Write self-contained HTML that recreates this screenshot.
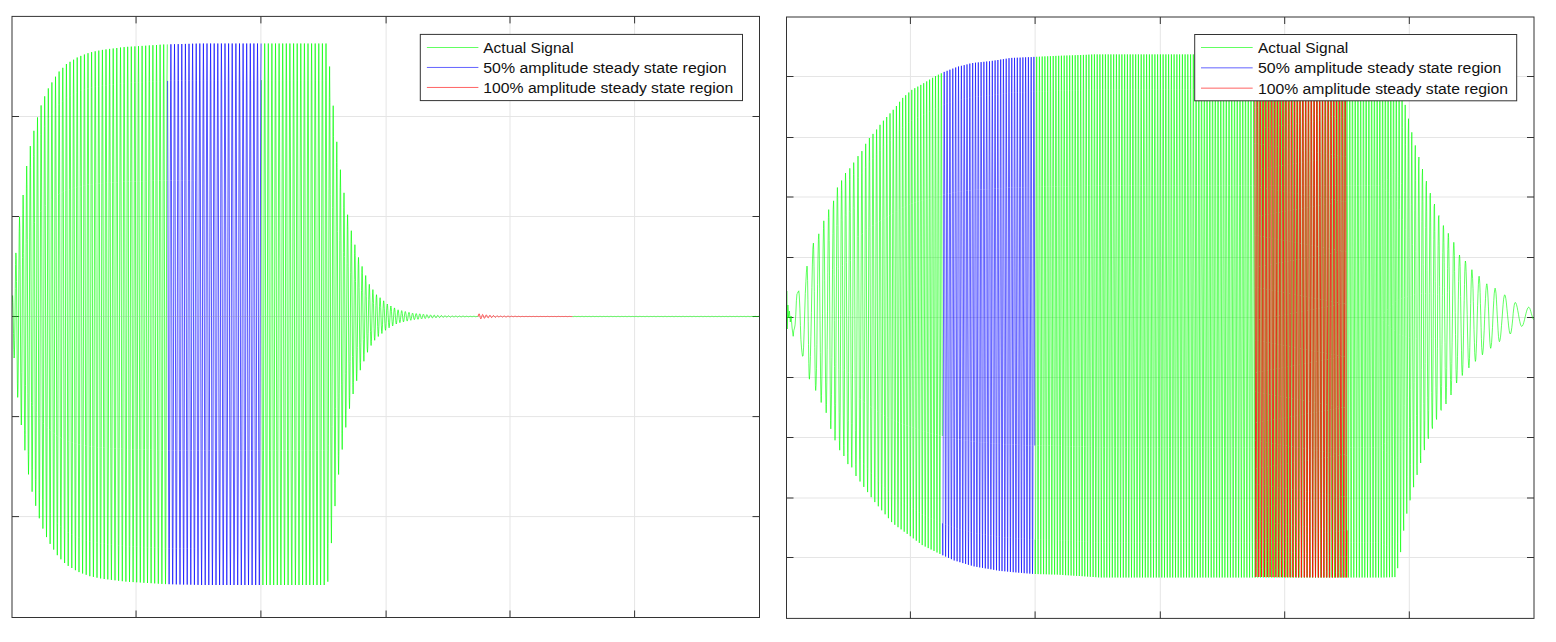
<!DOCTYPE html>
<html><head><meta charset="utf-8"><style>
html,body{margin:0;padding:0;background:#fff;width:1556px;height:642px;overflow:hidden}
svg{position:absolute;left:0;top:0}
.g line{stroke:#e5e5e5;stroke-width:1}
.t line,.t rect{stroke:#333;stroke-width:1}
.sig{fill:none;stroke-width:0.62;stroke-linejoin:round}
.lt{font-family:"Liberation Sans",sans-serif;font-size:15.3px;fill:#111}
</style></head><body>
<svg width="1556" height="642" viewBox="0 0 1556 642">
<defs>
<clipPath id="cl"><rect x="12" y="16.4" width="747.5" height="601.1"/></clipPath>
<clipPath id="cr"><rect x="786.5" y="17" width="747.5" height="601.4"/></clipPath>
</defs>
<g class="g"><line x1="136.06" y1="16.4" x2="136.06" y2="617.5"/><line x1="260.9" y1="16.4" x2="260.9" y2="617.5"/><line x1="386.1" y1="16.4" x2="386.1" y2="617.5"/><line x1="510.0" y1="16.4" x2="510.0" y2="617.5"/><line x1="634.6" y1="16.4" x2="634.6" y2="617.5"/><line x1="12.0" y1="116.5" x2="759.5" y2="116.5"/><line x1="12.0" y1="216.5" x2="759.5" y2="216.5"/><line x1="12.0" y1="316.5" x2="759.5" y2="316.5"/><line x1="12.0" y1="416.6" x2="759.5" y2="416.6"/><line x1="12.0" y1="516.6" x2="759.5" y2="516.6"/></g>
<g class="g"><line x1="910.4" y1="17.0" x2="910.4" y2="618.4"/><line x1="1035.1" y1="17.0" x2="1035.1" y2="618.4"/><line x1="1160.3" y1="17.0" x2="1160.3" y2="618.4"/><line x1="1284.7" y1="17.0" x2="1284.7" y2="618.4"/><line x1="1409.3" y1="17.0" x2="1409.3" y2="618.4"/><line x1="786.5" y1="76.5" x2="1534.0" y2="76.5"/><line x1="786.5" y1="137.5" x2="1534.0" y2="137.5"/><line x1="786.5" y1="197.0" x2="1534.0" y2="197.0"/><line x1="786.5" y1="257.5" x2="1534.0" y2="257.5"/><line x1="786.5" y1="317.5" x2="1534.0" y2="317.5"/><line x1="786.5" y1="377.5" x2="1534.0" y2="377.5"/><line x1="786.5" y1="437.5" x2="1534.0" y2="437.5"/><line x1="786.5" y1="498.0" x2="1534.0" y2="498.0"/><line x1="786.5" y1="557.5" x2="1534.0" y2="557.5"/></g>
<g class="t"><line x1="136.06" y1="617.5" x2="136.06" y2="610.50"/><line x1="136.06" y1="16.4" x2="136.06" y2="23.40"/><line x1="260.9" y1="617.5" x2="260.9" y2="610.50"/><line x1="260.9" y1="16.4" x2="260.9" y2="23.40"/><line x1="386.1" y1="617.5" x2="386.1" y2="610.50"/><line x1="386.1" y1="16.4" x2="386.1" y2="23.40"/><line x1="510.0" y1="617.5" x2="510.0" y2="610.50"/><line x1="510.0" y1="16.4" x2="510.0" y2="23.40"/><line x1="634.6" y1="617.5" x2="634.6" y2="610.50"/><line x1="634.6" y1="16.4" x2="634.6" y2="23.40"/><line x1="12.0" y1="116.5" x2="19.00" y2="116.5"/><line x1="759.5" y1="116.5" x2="752.50" y2="116.5"/><line x1="12.0" y1="216.5" x2="19.00" y2="216.5"/><line x1="759.5" y1="216.5" x2="752.50" y2="216.5"/><line x1="12.0" y1="316.5" x2="19.00" y2="316.5"/><line x1="759.5" y1="316.5" x2="752.50" y2="316.5"/><line x1="12.0" y1="416.6" x2="19.00" y2="416.6"/><line x1="759.5" y1="416.6" x2="752.50" y2="416.6"/><line x1="12.0" y1="516.6" x2="19.00" y2="516.6"/><line x1="759.5" y1="516.6" x2="752.50" y2="516.6"/></g>
<g class="t"><line x1="910.4" y1="618.4" x2="910.4" y2="611.40"/><line x1="910.4" y1="17.0" x2="910.4" y2="24.00"/><line x1="1035.1" y1="618.4" x2="1035.1" y2="611.40"/><line x1="1035.1" y1="17.0" x2="1035.1" y2="24.00"/><line x1="1160.3" y1="618.4" x2="1160.3" y2="611.40"/><line x1="1160.3" y1="17.0" x2="1160.3" y2="24.00"/><line x1="1284.7" y1="618.4" x2="1284.7" y2="611.40"/><line x1="1284.7" y1="17.0" x2="1284.7" y2="24.00"/><line x1="1409.3" y1="618.4" x2="1409.3" y2="611.40"/><line x1="1409.3" y1="17.0" x2="1409.3" y2="24.00"/><line x1="786.5" y1="76.5" x2="793.50" y2="76.5"/><line x1="1534.0" y1="76.5" x2="1527.00" y2="76.5"/><line x1="786.5" y1="137.5" x2="793.50" y2="137.5"/><line x1="1534.0" y1="137.5" x2="1527.00" y2="137.5"/><line x1="786.5" y1="197.0" x2="793.50" y2="197.0"/><line x1="1534.0" y1="197.0" x2="1527.00" y2="197.0"/><line x1="786.5" y1="257.5" x2="793.50" y2="257.5"/><line x1="1534.0" y1="257.5" x2="1527.00" y2="257.5"/><line x1="786.5" y1="317.5" x2="793.50" y2="317.5"/><line x1="1534.0" y1="317.5" x2="1527.00" y2="317.5"/><line x1="786.5" y1="377.5" x2="793.50" y2="377.5"/><line x1="1534.0" y1="377.5" x2="1527.00" y2="377.5"/><line x1="786.5" y1="437.5" x2="793.50" y2="437.5"/><line x1="1534.0" y1="437.5" x2="1527.00" y2="437.5"/><line x1="786.5" y1="498.0" x2="793.50" y2="498.0"/><line x1="1534.0" y1="498.0" x2="1527.00" y2="498.0"/><line x1="786.5" y1="557.5" x2="793.50" y2="557.5"/><line x1="1534.0" y1="557.5" x2="1527.00" y2="557.5"/></g>
<g clip-path="url(#cl)" style="--w:0.67">
<polyline class="sig" stroke="#00ff00" style="stroke-width:0.67" points="11.4,316.5 11.7,310.6 12,302.7 12.3,296.5 12.6,295.6 12.9,302.5 13.2,316.5 13.5,333.7 13.8,349.4 14.1,358 14.4,355.5 14.7,340.8 15,316.5 15.3,288.3 15.6,264.5 15.9,252.9 16.2,258.7 16.5,281.6 16.8,316.5 17.1,353.9 17.4,383.9 17.7,397.4 18,389.2 18.3,360 18.6,316.5 18.9,269.2 19.2,231.9 19.5,216.9 19.8,228.7 20.1,264.9 20.4,316.5 20.7,369 21,409 21.3,425 21.6,412 21.9,372.5 22.2,316.5 22.5,257.7 22.8,213.2 23.1,195 23.4,209.2 23.7,253.3 24,316.5 24.3,381 24.6,430.3 24.9,450.3 25.2,434.5 25.5,385.8 25.8,316.5 26.1,243.6 26.4,188.1 26.7,166 27,184.7 27.3,239.6 27.6,316.5 27.9,393.8 28.2,451.8 28.5,474.4 28.8,454.6 29.1,397.1 29.4,316.5 29.7,232.9 30,170.3 30.3,146.1 30.6,167.8 30.9,230 31.2,316.5 31.5,402.8 31.8,467.1 32.1,491.7 32.4,469.3 32.7,405.4 33,316.5 33.3,224.9 33.6,156.7 33.9,130.8 34.2,154.7 34.5,222.5 34.8,316.5 35.1,410 35.4,479.5 35.7,505.8 36,481.4 36.3,412.2 36.6,316.5 36.9,218 37.2,145 37.5,117.4 37.8,143.2 38.1,215.9 38.4,316.5 38.7,416.4 39,490.4 39.3,518.3 39.6,492.2 39.9,418.4 40.2,316.5 40.5,211.8 40.8,134.4 41.1,105.4 41.4,133 41.7,210.2 42,316.5 42.3,421.8 42.6,499.6 42.9,528.6 43.2,500.9 43.5,423.3 43.8,316.5 44.1,207.1 44.4,126.4 44.7,96.3 45,125.2 45.3,205.7 45.6,316.5 45.9,426.1 46.2,507 46.5,537.1 46.8,508.1 47.1,427.5 47.4,316.5 47.7,203 48,119.4 48.3,88.4 48.6,118.5 48.9,201.9 49.2,316.5 49.5,429.7 49.8,513 50.1,543.9 50.4,513.8 50.7,430.7 51,316.5 51.3,199.9 51.6,114.1 51.9,82.4 52.2,113.3 52.5,199 52.8,316.5 53.1,432.6 53.4,517.9 53.7,549.6 54,518.8 54.3,433.5 54.6,316.5 54.9,197.1 55.2,109.2 55.5,76.7 55.8,108.4 56.1,196.1 56.4,316.5 56.7,435.4 57,522.8 57.3,555.2 57.6,523.6 57.9,436.3 58.2,316.5 58.5,194.3 58.8,104.6 59.1,71.5 59.4,104.1 59.7,193.7 60,316.5 60.3,437.6 60.6,526.5 60.9,559.3 61.2,527 61.5,438.2 61.8,316.5 62.1,192.5 62.4,101.4 62.8,67.8 63.1,100.8 63.4,191.8 63.7,316.5 64,439.4 64.3,529.7 64.6,563 64.9,530.2 65.2,440 65.5,316.5 65.8,190.6 66.1,98.1 66.4,64 66.7,97.7 67,190.1 67.3,316.5 67.6,441 67.9,532.3 68.2,565.9 68.5,532.6 68.8,441.4 69.1,316.5 69.4,189.4 69.7,96.1 70,61.8 70.3,95.8 70.6,189 70.9,316.5 71.2,442.1 71.5,534.2 71.8,568 72.1,534.5 72.4,442.4 72.7,316.5 73,188.3 73.3,94.2 73.6,59.7 73.9,93.9 74.2,187.9 74.5,316.5 74.8,443.2 75.1,536 75.4,570.2 75.7,536.3 76,443.5 76.3,316.5 76.6,187.2 76.9,92.4 77.2,57.5 77.5,92 77.8,186.8 78.1,316.5 78.4,444.2 78.7,537.8 79,572.1 79.3,537.9 79.6,444.4 79.9,316.5 80.2,186.3 80.5,90.9 80.8,55.9 81.1,90.7 81.4,186.1 81.7,316.5 82,444.9 82.3,538.9 82.6,573.5 82.9,539.1 83.2,445.1 83.5,316.5 83.8,185.6 84.1,89.7 84.4,54.5 84.7,89.5 85,185.4 85.3,316.5 85.6,445.5 85.9,540.1 86.2,574.8 86.5,540.3 86.8,445.8 87.1,316.5 87.4,184.9 87.7,88.5 88,53.2 88.3,88.3 88.6,184.7 88.9,316.5 89.2,446.2 89.5,541.3 89.8,576.2 90.1,541.4 90.4,446.4 90.7,316.5 91,184.4 91.3,87.6 91.6,52.1 91.9,87.5 92.2,184.2 92.5,316.5 92.8,446.7 93.1,542 93.4,576.9 93.7,542.1 94,446.8 94.3,316.5 94.6,184 94.9,86.9 95.2,51.3 95.5,86.8 95.8,183.8 96.1,316.5 96.4,447 96.7,542.6 97,577.7 97.3,542.7 97.6,447.2 97.9,316.5 98.2,183.6 98.5,86.2 98.8,50.6 99.1,86.1 99.4,183.5 99.7,316.5 100,447.4 100.3,543.3 100.6,578.4 100.9,543.4 101.2,447.5 101.5,316.5 101.8,183.2 102.1,85.6 102.4,49.9 102.7,85.6 103,183.1 103.3,316.5 103.6,447.7 103.9,543.8 104.2,579 104.5,543.8 104.8,447.8 105.1,316.5 105.4,183 105.7,85.2 106,49.4 106.3,85.2 106.6,182.9 106.9,316.5 107.2,447.9 107.5,544.2 107.8,579.4 108.1,544.2 108.4,448 108.7,316.5 109,182.8 109.3,84.8 109.6,48.9 109.9,84.7 110.2,182.7 110.5,316.5 110.8,448.2 111.1,544.6 111.4,579.9 111.7,544.6 112,448.2 112.3,316.5 112.6,182.5 112.9,84.4 113.2,48.5 113.5,84.3 113.8,182.4 114.1,316.5 114.4,448.4 114.7,545 115,580.3 115.3,545 115.6,448.5 115.9,316.5 116.2,182.3 116.5,84 116.8,48 117.1,83.9 117.4,182.2 117.7,316.5 118,448.6 118.3,545.4 118.6,580.8 118.9,545.4 119.2,448.7 119.5,316.5 119.9,182.1 120.2,83.6 120.5,47.5 120.8,83.5 121.1,182 121.4,316.5 121.7,448.8 122,545.7 122.3,581.2 122.6,545.8 122.9,448.9 123.2,316.5 123.5,181.8 123.8,83.2 124.1,47.1 124.4,83.1 124.7,181.8 125,316.5 125.3,449 125.6,546.1 125.9,581.6 126.2,546.1 126.5,449.1 126.8,316.5 127.1,181.7 127.4,83 127.7,46.8 128,82.9 128.3,181.6 128.6,316.5 128.9,449.2 129.2,546.3 129.5,581.9 129.8,546.3 130.1,449.2 130.4,316.5 130.7,181.6 131,82.8 131.3,46.6 131.6,82.7 131.9,181.5 132.2,316.5 132.5,449.3 132.8,546.5 133.1,582.1 133.4,546.5 133.7,449.3 134,316.5 134.3,181.4 134.6,82.6 134.9,46.4 135.2,82.5 135.5,181.4 135.8,316.5 136.1,449.4 136.4,546.7 136.7,582.3 137,546.7 137.3,449.4 137.6,316.5 137.9,181.3 138.2,82.4 138.5,46.1 138.8,82.3 139.1,181.3 139.4,316.5 139.7,449.5 140,546.9 140.3,582.5 140.6,546.9 140.9,449.5 141.2,316.5 141.5,181.2 141.8,82.2 142.1,45.9 142.4,82.1 142.7,181.2 143,316.5 143.3,449.6 143.6,547.1 143.9,582.8 144.2,547.1 144.5,449.6 144.8,316.5 145.1,181.1 145.4,82 145.7,45.7 146,81.9 146.3,181.1 146.6,316.5 146.9,449.7 147.2,547.3 147.5,583 147.8,547.3 148.1,449.8 148.4,316.5 148.7,181 149,81.8 149.3,45.4 149.6,81.7 149.9,180.9 150.2,316.5 150.5,449.8 150.8,547.5 151.1,583.2 151.4,547.5 151.7,449.9 152,316.5 152.3,180.9 152.6,81.6 152.9,45.2 153.2,81.5 153.5,180.8 153.8,316.5 154.1,449.9 154.4,547.7 154.7,583.4 155,547.7 155.3,450 155.6,316.5 155.9,180.8 156.2,81.4 156.5,45 156.8,81.3 157.1,180.7 157.4,316.5 157.7,450.1 158,547.9 158.3,583.7 158.6,547.9 158.9,450.1 159.2,316.5 159.5,180.6 159.8,81.2 160.1,44.7 160.4,81.1 160.7,180.6 161,316.5 161.3,450.2 161.6,548 161.9,583.9 162.2,548.1 162.5,450.2 162.8,316.5 163.1,180.5 163.4,81 163.7,44.5 164,80.9 164.3,180.5 164.6,316.5 164.9,450.3 165.2,548.2 165.5,584.1 165.8,548.2 166.1,450.3 166.4,316.5 166.7,180.5 167,80.9 167.3,44.4"/>
<polyline class="sig" stroke="#00ff00" style="stroke-width:0.67" points="261.4,80.1 261.7,180 262,316.5 262.3,450.7 262.6,549 262.9,585 263.2,549 263.5,450.8 263.8,316.5 264.1,180 264.4,80.1 264.7,43.5 265,80.1 265.3,180 265.6,316.5 265.9,450.8 266.2,549 266.5,585 266.8,549 267.1,450.8 267.4,316.5 267.7,180 268,80.1 268.3,43.5 268.6,80.1 268.9,180 269.2,316.5 269.5,450.8 269.8,549 270.1,585 270.4,549 270.7,450.8 271,316.5 271.3,180 271.6,80.1 271.9,43.5 272.2,80.1 272.5,180 272.8,316.5 273.1,450.7 273.4,549 273.7,585 274,549 274.3,450.8 274.6,316.5 274.9,180 275.2,80.1 275.5,43.5 275.8,80.1 276.1,180 276.4,316.5 276.7,450.7 277,549 277.3,585 277.6,549 277.9,450.8 278.2,316.5 278.5,180 278.8,80.1 279.1,43.5 279.4,80.1 279.7,180 280,316.5 280.3,450.8 280.6,549 280.9,585 281.2,549 281.5,450.7 281.8,316.5 282.1,180 282.4,80.1 282.7,43.5 283,80.1 283.3,180 283.6,316.5 283.9,450.7 284.2,549 284.5,585 284.8,549 285.1,450.7 285.4,316.5 285.7,180 286,80.1 286.3,43.5 286.6,80.1 286.9,180 287.2,316.5 287.5,450.7 287.8,549 288.1,585 288.4,549 288.7,450.8 289,316.5 289.3,180 289.6,80.1 289.9,43.5 290.2,80.1 290.5,180 290.8,316.5 291.1,450.7 291.4,549 291.8,585 292.1,549 292.4,450.7 292.7,316.5 293,180 293.3,80.1 293.6,43.5 293.9,80.1 294.2,180 294.5,316.5 294.8,450.7 295.1,549 295.4,585 295.7,549 296,450.8 296.3,316.5 296.6,180 296.9,80.1 297.2,43.5 297.5,80.1 297.8,180 298.1,316.5 298.4,450.7 298.7,549 299,585 299.3,549 299.6,450.8 299.9,316.5 300.2,180 300.5,80.1 300.8,43.5 301.1,80.1 301.4,180 301.7,316.5 302,450.7 302.3,549 302.6,585 302.9,549 303.2,450.8 303.5,316.5 303.8,180 304.1,80.1 304.4,43.5 304.7,80.1 305,180 305.3,316.5 305.6,450.8 305.9,549 306.2,585 306.5,549 306.8,450.8 307.1,316.5 307.4,180 307.7,80.1 308,43.5 308.3,80.1 308.6,180 308.9,316.5 309.2,450.8 309.5,549 309.8,585 310.1,549 310.4,450.8 310.7,316.5 311,180 311.3,80.1 311.6,43.5 311.9,80.1 312.2,180 312.5,316.5 312.8,450.7 313.1,549 313.4,585 313.7,549 314,450.8 314.3,316.5 314.6,180 314.9,80.1 315.2,43.5 315.5,80.1 315.8,180 316.1,316.5 316.4,450.7 316.7,549 317,585 317.3,549 317.6,450.7 317.9,316.5 318.2,180 318.5,80.1 318.8,43.5 319.1,80.1 319.4,180 319.7,316.5 320,450.8 320.3,549 320.6,585 320.9,549 321.2,450.7 321.5,316.5 321.8,180 322.1,80.1 322.4,43.5 322.7,80.1 323,180 323.3,316.5 323.6,450.7 323.9,549 324.2,585 324.5,549 324.8,450.8 325.1,316.5 325.4,180 325.7,80.1 326,43.5 326.3,80.1 326.6,180 326.9,316.5 327.2,450.7 327.5,548.9 327.8,581.7 328.1,543.3 328.4,445.9 328.7,316.5 329,188.2 329.3,97.2 329.6,66.5 329.9,102.8 330.2,194.8 330.5,316.5 330.8,433 331.1,515.5 331.4,543.1 331.7,510 332,426.6 332.3,316.5 332.6,207.8 332.9,131.1 333.2,105.7 333.5,136.6 333.8,214.1 334.1,316.5 334.4,414.2 334.7,483.2 335,506.1 335.3,478.1 335.6,408.3 335.9,316.5 336.2,226.1 336.5,162.6 336.8,141.8 337.1,167.3 337.4,231.5 337.7,316.5 338,397.8 338.3,455.3 338.6,474.5 338.9,451.3 339.2,393.2 339.5,316.5 339.8,240.8 340.1,187.4 340.4,169.7 340.7,191.1 341,245 341.3,316.5 341.6,384.9 341.9,433.3 342.2,449.5 342.5,430.1 342.8,381.1 343.1,316.5 343.4,252.7 343.7,207.7 344,192.8 344.3,210.9 344.6,256.5 344.9,316.5 345.2,373.7 345.5,414.1 345.8,427.4 346.1,410.9 346.4,370.1 346.7,316.5 347,263.8 347.3,226.8 347.6,214.7 347.9,229.5 348.2,266.9 348.5,316.5 348.9,363.9 349.2,397.5 349.5,408.7 349.8,395.2 350.1,361.3 350.4,316.5 350.7,272.3 351,241.1 351.3,230.7 351.6,243.2 351.9,274.8 352.2,316.5 352.5,356.4 352.8,384.6 353.1,394 353.4,382.6 353.7,354.1 354,316.5 354.3,279.4 354.6,253.3 354.9,244.7 355.2,255.3 355.5,281.7 355.8,316.5 356.1,349.7 356.4,373.1 356.7,380.8 357,371.2 357.3,347.6 357.6,316.5 357.9,286 358.2,264.6 358.5,257.4 358.8,266 359.1,287.7 359.4,316.5 359.7,344.1 360,363.6 360.3,370.2 360.6,362.3 360.9,342.6 361.2,316.5 361.5,290.7 361.8,272.5 362.1,266.4 362.4,273.8 362.7,292.2 363,316.5 363.3,339.6 363.6,355.9 363.9,361.3 364.2,354.6 364.5,338.1 364.8,316.5 365.1,295.3 365.4,280.4 365.7,275.5 366,281.7 366.3,296.8 366.6,316.5 366.9,335.2 367.2,348.2 367.5,352.3 367.8,346.9 368.1,333.7 368.4,316.5 368.7,299.8 369,288.2 369.3,284.3 369.6,289 369.9,300.9 370.2,316.5 370.5,331.5 370.8,342 371.1,345.5 371.4,341.3 371.7,330.6 372,316.5 372.3,302.6 372.6,292.8 372.9,289.6 373.2,293.6 373.5,303.5 373.8,316.5 374.1,328.8 374.4,337.5 374.7,340.3 375,336.7 375.3,328 375.6,316.5 375.9,305.3 376.2,297.4 376.5,294.7 376.8,297.9 377.1,305.9 377.4,316.5 377.7,326.7 378,334 378.3,336.5 378.6,333.6 378.9,326.2 379.2,316.5 379.5,306.8 379.8,300 380.1,297.7 380.4,300.4 380.7,307.3 381,316.5 381.3,325.2 381.6,331.4 381.9,333.5 382.2,331 382.5,324.7 382.8,316.5 383.1,308.4 383.4,302.7 383.7,300.8 384,303.2 384.3,308.9 384.6,316.5 384.9,323.7 385.2,328.7 385.5,330.3 385.8,328.3 386.1,323.2 386.4,316.5 386.7,310 387,305.5 387.3,304 387.6,305.8 387.9,310.4 388.2,316.5 388.5,322.3 388.8,326.4 389.1,327.8 389.4,326.2 389.7,322 390,316.5 390.3,311.1 390.6,307.2 390.9,306 391.2,307.5 391.5,311.4 391.8,316.5 392.1,321.4 392.4,324.8 392.7,325.9 393,324.5 393.3,321 393.6,316.5 393.9,312 394.2,308.9 394.5,307.9 394.8,309.2 395.1,312.4 395.4,316.5 395.7,320.4 396,323.1 396.3,324 396.6,322.8 396.9,320.1 397.2,316.5 397.5,313 397.8,310.6 398.1,309.8 398.4,310.8 398.7,313.2 399,316.5 399.3,319.6 399.6,321.9 399.9,322.7 400.2,321.8 400.5,319.5 400.8,316.5 401.1,313.5 401.4,311.4 401.7,310.6 402,311.5 402.3,313.6 402.6,316.5 402.9,319.2 403.2,321.2 403.5,321.9 403.8,321.1 404.1,319.1 404.4,316.5 404.7,313.9 405,312.1 405.3,311.5 405.6,312.2 406,314 406.3,316.5 406.6,318.8 406.9,320.5 407.2,321.1 407.5,320.4 407.8,318.7 408.1,316.5 408.4,314.3 408.7,312.8 409,312.3 409.3,312.9 409.6,314.5 409.9,316.5 410.2,318.4 410.5,319.8 410.8,320.3 411.1,319.7 411.4,318.3 411.7,316.5 412,314.7 412.3,313.5 412.6,313.1 412.9,313.6 413.2,314.8 413.5,316.5 413.8,318.1 414.1,319.3 414.4,319.7 414.7,319.2 415,318.1 415.3,316.5 415.6,315 415.9,313.8 416.2,313.5 416.5,313.9 416.8,315 417.1,316.5 417.4,317.9 417.7,318.9 418,319.3 418.3,318.9 418.6,317.9 418.9,316.5 419.2,315.1 419.5,314.2 419.8,313.8 420.1,314.2 420.4,315.2 420.7,316.5 421,317.7 421.3,318.6 421.6,318.9 421.9,318.6 422.2,317.7 422.5,316.5 422.8,315.3 423.1,314.5 423.4,314.2 423.7,314.5 424,315.4 424.3,316.5 424.6,317.6 424.9,318.3 425.2,318.6 425.5,318.3 425.8,317.5 426.1,316.5 426.4,315.5 426.7,314.8 427,314.6 427.3,314.9 427.6,315.6 427.9,316.5 428.2,317.4 428.5,318 428.8,318.2 429.1,317.9 429.4,317.3 429.7,316.5 430,315.7 430.3,315.1 430.6,314.9 430.9,315.2 431.2,315.7 431.5,316.5 431.8,317.2 432.1,317.8 432.4,317.9 432.7,317.7 433,317.2 433.3,316.5 433.6,315.8 433.9,315.3 434.2,315.1 434.5,315.3 434.8,315.8 435.1,316.5 435.4,317.1 435.7,317.6 436,317.8 436.3,317.6 436.6,317.1 436.9,316.5 437.2,315.9 437.5,315.5 437.8,315.3 438.1,315.5 438.4,315.9 438.7,316.5 439,317.1 439.3,317.4 439.6,317.6 439.9,317.4 440.2,317 440.5,316.5 440.8,316 441.1,315.6 441.4,315.5 441.7,315.7 442,316 442.3,316.5 442.6,317 442.9,317.3 443.2,317.4 443.5,317.2 443.8,316.9 444.1,316.5 444.4,316.1 444.7,315.8 445,315.7 445.3,315.8 445.6,316.1 445.9,316.5 446.2,316.9 446.5,317.1 446.8,317.2 447.1,317.1 447.4,316.9 447.7,316.5 448,316.1 448.3,315.9 448.6,315.8 448.9,315.9 449.2,316.2 449.5,316.5 449.8,316.8 450.1,317.1 450.4,317.2 450.7,317.1 451,316.8 451.3,316.5 451.6,316.2 451.9,316 452.2,315.9 452.5,316 452.8,316.2 453.1,316.5 453.4,316.8 453.7,317 454,317.1 454.3,317 454.6,316.8 454.9,316.5 455.2,316.2 455.5,316 455.8,316 456.1,316 456.4,316.2 456.7,316.5 457,316.7 457.3,316.9 457.6,317 457.9,316.9 458.2,316.7 458.5,316.5 458.8,316.3 459.1,316.1 459.4,316.1 459.7,316.1 460,316.3 460.3,316.5 460.6,316.7 460.9,316.8 461.2,316.9 461.5,316.8 461.8,316.7 462.1,316.5 462.4,316.3 462.7,316.2 463,316.2 463.4,316.2 463.7,316.3 464,316.5 464.3,316.7 464.6,316.8 464.9,316.8 465.2,316.8 465.5,316.6 465.8,316.5 466.1,316.4 466.4,316.3 466.7,316.2 467,316.3 467.3,316.4 467.6,316.5 467.9,316.6 468.2,316.7 468.5,316.8 468.8,316.7 469.1,316.6 469.4,316.5 469.7,316.4 470,316.3 470.3,316.3 470.6,316.3 470.9,316.4 471.2,316.5 471.5,316.6 471.8,316.7 472.1,316.7 472.4,316.7 472.7,316.6 473,316.5 473.3,316.4 473.6,316.3 473.9,316.3 474.2,316.3 474.5,316.4 474.8,316.5 475.1,316.6 475.4,316.7 475.7,316.7 476,316.6 476.3,316.6 476.6,316.5 476.9,316.4 477.2,316.4 477.5,316.3 477.8,316.4 478.1,316.4"/>
<polyline class="sig" stroke="#00ff00" style="stroke-width:0.67" points="572.4,316.6 572.7,316.6 573,316.6 573.3,316.6 573.6,316.6 573.9,316.5 574.2,316.4 574.5,316.4 574.8,316.4 575.1,316.4 575.4,316.4 575.7,316.5 576,316.6 576.3,316.6 576.6,316.6 576.9,316.6 577.2,316.6 577.5,316.5 577.9,316.4 578.2,316.4 578.5,316.4 578.8,316.4 579.1,316.4 579.4,316.5 579.7,316.6 580,316.6 580.3,316.6 580.6,316.6 580.9,316.6 581.2,316.5 581.5,316.4 581.8,316.4 582.1,316.4 582.4,316.4 582.7,316.4 583,316.5 583.3,316.6 583.6,316.6 583.9,316.6 584.2,316.6 584.5,316.6 584.8,316.5 585.1,316.4 585.4,316.4 585.7,316.4 586,316.4 586.3,316.4 586.6,316.5 586.9,316.6 587.2,316.6 587.5,316.6 587.8,316.6 588.1,316.6 588.4,316.5 588.7,316.4 589,316.4 589.3,316.4 589.6,316.4 589.9,316.4 590.2,316.5 590.5,316.6 590.8,316.6 591.1,316.6 591.4,316.6 591.7,316.6 592,316.5 592.3,316.4 592.6,316.4 592.9,316.4 593.2,316.4 593.5,316.4 593.8,316.5 594.1,316.6 594.4,316.6 594.7,316.6 595,316.6 595.3,316.6 595.6,316.5 595.9,316.4 596.2,316.4 596.5,316.4 596.8,316.4 597.1,316.4 597.4,316.5 597.7,316.6 598,316.6 598.3,316.6 598.6,316.6 598.9,316.6 599.2,316.5 599.5,316.4 599.8,316.4 600.1,316.4 600.4,316.4 600.7,316.4 601,316.5 601.3,316.6 601.6,316.6 601.9,316.6 602.2,316.6 602.5,316.6 602.8,316.5 603.1,316.4 603.4,316.4 603.7,316.4 604,316.4 604.3,316.4 604.6,316.5 604.9,316.6 605.2,316.6 605.5,316.6 605.8,316.6 606.1,316.6 606.4,316.5 606.7,316.4 607,316.4 607.3,316.4 607.6,316.4 607.9,316.4 608.2,316.5 608.5,316.6 608.8,316.6 609.1,316.6 609.4,316.6 609.7,316.6 610,316.5 610.3,316.4 610.6,316.4 610.9,316.4 611.2,316.4 611.5,316.4 611.8,316.5 612.1,316.6 612.4,316.6 612.7,316.6 613,316.6 613.3,316.6 613.6,316.5 613.9,316.4 614.2,316.4 614.5,316.4 614.8,316.4 615.1,316.4 615.4,316.5 615.7,316.6 616,316.6 616.3,316.6 616.6,316.6 616.9,316.6 617.2,316.5 617.5,316.4 617.8,316.4 618.1,316.4 618.4,316.4 618.7,316.4 619,316.5 619.3,316.6 619.6,316.6 619.9,316.6 620.2,316.6 620.5,316.6 620.8,316.5 621.1,316.4 621.4,316.4 621.7,316.4 622,316.4 622.3,316.4 622.6,316.5 622.9,316.6 623.2,316.6 623.5,316.6 623.8,316.6 624.1,316.6 624.4,316.5 624.7,316.4 625,316.4 625.3,316.4 625.6,316.4 625.9,316.4 626.2,316.5 626.5,316.6 626.8,316.6 627.1,316.6 627.4,316.6 627.7,316.6 628,316.5 628.3,316.4 628.6,316.4 628.9,316.4 629.2,316.4 629.5,316.4 629.8,316.5 630.1,316.6 630.4,316.6 630.7,316.6 631,316.6 631.3,316.6 631.6,316.5 631.9,316.4 632.2,316.4 632.5,316.4 632.8,316.4 633.1,316.4 633.4,316.5 633.7,316.6 634,316.6 634.3,316.6 634.6,316.6 635,316.6 635.3,316.5 635.6,316.4 635.9,316.4 636.2,316.4 636.5,316.4 636.8,316.4 637.1,316.5 637.4,316.6 637.7,316.6 638,316.6 638.3,316.6 638.6,316.6 638.9,316.5 639.2,316.4 639.5,316.4 639.8,316.4 640.1,316.4 640.4,316.4 640.7,316.5 641,316.6 641.3,316.6 641.6,316.6 641.9,316.6 642.2,316.6 642.5,316.5 642.8,316.4 643.1,316.4 643.4,316.4 643.7,316.4 644,316.4 644.3,316.5 644.6,316.6 644.9,316.6 645.2,316.6 645.5,316.6 645.8,316.6 646.1,316.5 646.4,316.4 646.7,316.4 647,316.4 647.3,316.4 647.6,316.4 647.9,316.5 648.2,316.6 648.5,316.6 648.8,316.6 649.1,316.6 649.4,316.6 649.7,316.5 650,316.4 650.3,316.4 650.6,316.4 650.9,316.4 651.2,316.4 651.5,316.5 651.8,316.6 652.1,316.6 652.4,316.6 652.7,316.6 653,316.6 653.3,316.5 653.6,316.4 653.9,316.4 654.2,316.4 654.5,316.4 654.8,316.4 655.1,316.5 655.4,316.6 655.7,316.6 656,316.6 656.3,316.6 656.6,316.6 656.9,316.5 657.2,316.4 657.5,316.4 657.8,316.4 658.1,316.4 658.4,316.4 658.7,316.5 659,316.6 659.3,316.6 659.6,316.6 659.9,316.6 660.2,316.6 660.5,316.5 660.8,316.4 661.1,316.4 661.4,316.4 661.7,316.4 662,316.4 662.3,316.5 662.6,316.6 662.9,316.6 663.2,316.6 663.5,316.6 663.8,316.6 664.1,316.5 664.4,316.4 664.7,316.4 665,316.4 665.3,316.4 665.6,316.4 665.9,316.5 666.2,316.6 666.5,316.6 666.8,316.6 667.1,316.6 667.4,316.6 667.7,316.5 668,316.4 668.3,316.4 668.6,316.4 668.9,316.4 669.2,316.4 669.5,316.5 669.8,316.6 670.1,316.6 670.4,316.6 670.7,316.6 671,316.6 671.3,316.5 671.6,316.4 671.9,316.4 672.2,316.4 672.5,316.4 672.8,316.4 673.1,316.5 673.4,316.6 673.7,316.6 674,316.6 674.3,316.6 674.6,316.6 674.9,316.5 675.2,316.4 675.5,316.4 675.8,316.4 676.1,316.4 676.4,316.4 676.7,316.5 677,316.6 677.3,316.6 677.6,316.6 677.9,316.6 678.2,316.6 678.5,316.5 678.8,316.4 679.1,316.4 679.4,316.4 679.7,316.4 680,316.4 680.3,316.5 680.6,316.6 680.9,316.6 681.2,316.6 681.5,316.6 681.8,316.6 682.1,316.5 682.4,316.4 682.7,316.4 683,316.4 683.3,316.4 683.6,316.4 683.9,316.5 684.2,316.6 684.5,316.6 684.8,316.6 685.1,316.6 685.4,316.6 685.7,316.5 686,316.4 686.3,316.4 686.6,316.4 686.9,316.4 687.2,316.4 687.5,316.5 687.8,316.6 688.1,316.6 688.4,316.6 688.7,316.6 689,316.6 689.3,316.5 689.6,316.4 689.9,316.4 690.2,316.4 690.5,316.4 690.8,316.4 691.1,316.5 691.4,316.6 691.7,316.6 692,316.6 692.4,316.6 692.7,316.6 693,316.5 693.3,316.4 693.6,316.4 693.9,316.4 694.2,316.4 694.5,316.4 694.8,316.5 695.1,316.6 695.4,316.6 695.7,316.6 696,316.6 696.3,316.6 696.6,316.5 696.9,316.4 697.2,316.4 697.5,316.4 697.8,316.4 698.1,316.4 698.4,316.5 698.7,316.6 699,316.6 699.3,316.6 699.6,316.6 699.9,316.6 700.2,316.5 700.5,316.4 700.8,316.4 701.1,316.4 701.4,316.4 701.7,316.4 702,316.5 702.3,316.6 702.6,316.6 702.9,316.6 703.2,316.6 703.5,316.6 703.8,316.5 704.1,316.4 704.4,316.4 704.7,316.4 705,316.4 705.3,316.4 705.6,316.5 705.9,316.6 706.2,316.6 706.5,316.6 706.8,316.6 707.1,316.6 707.4,316.5 707.7,316.4 708,316.4 708.3,316.4 708.6,316.4 708.9,316.4 709.2,316.5 709.5,316.6 709.8,316.6 710.1,316.6 710.4,316.6 710.7,316.6 711,316.5 711.3,316.4 711.6,316.4 711.9,316.4 712.2,316.4 712.5,316.4 712.8,316.5 713.1,316.6 713.4,316.6 713.7,316.6 714,316.6 714.3,316.6 714.6,316.5 714.9,316.4 715.2,316.4 715.5,316.4 715.8,316.4 716.1,316.4 716.4,316.5 716.7,316.6 717,316.6 717.3,316.6 717.6,316.6 717.9,316.6 718.2,316.5 718.5,316.4 718.8,316.4 719.1,316.4 719.4,316.4 719.7,316.4 720,316.5 720.3,316.6 720.6,316.6 720.9,316.6 721.2,316.6 721.5,316.6 721.8,316.5 722.1,316.4 722.4,316.4 722.7,316.4 723,316.4 723.3,316.4 723.6,316.5 723.9,316.6 724.2,316.6 724.5,316.6 724.8,316.6 725.1,316.6 725.4,316.5 725.7,316.4 726,316.4 726.3,316.4 726.6,316.4 726.9,316.4 727.2,316.5 727.5,316.6 727.8,316.6 728.1,316.6 728.4,316.6 728.7,316.6 729,316.5 729.3,316.4 729.6,316.4 729.9,316.4 730.2,316.4 730.5,316.4 730.8,316.5 731.1,316.6 731.4,316.6 731.7,316.6 732,316.6 732.3,316.6 732.6,316.5 732.9,316.4 733.2,316.4 733.5,316.4 733.8,316.4 734.1,316.4 734.4,316.5 734.7,316.6 735,316.6 735.3,316.6 735.6,316.6 735.9,316.6 736.2,316.5 736.5,316.4 736.8,316.4 737.1,316.4 737.4,316.4 737.7,316.4 738,316.5 738.3,316.6 738.6,316.6 738.9,316.6 739.2,316.6 739.5,316.6 739.8,316.5 740.1,316.4 740.4,316.4 740.7,316.4 741,316.4 741.3,316.4 741.6,316.5 741.9,316.6 742.2,316.6 742.5,316.6 742.8,316.6 743.1,316.6 743.4,316.5 743.7,316.4 744,316.4 744.3,316.4 744.6,316.4 744.9,316.4 745.2,316.5 745.5,316.6 745.8,316.6 746.1,316.6 746.4,316.6 746.7,316.6 747,316.5 747.3,316.4 747.6,316.4 747.9,316.4 748.2,316.4 748.5,316.4 748.8,316.5 749.1,316.6 749.5,316.6 749.8,316.6 750.1,316.6 750.4,316.6 750.7,316.5 751,316.4 751.3,316.4 751.6,316.4 751.9,316.4 752.2,316.4 752.5,316.5 752.8,316.5 753.1,316.6 753.4,316.6 753.7,316.6 754,316.5 754.3,316.5 754.6,316.4 754.9,316.4 755.2,316.4 755.5,316.4 755.8,316.4 756.1,316.5 756.4,316.5 756.7,316.6 757,316.6 757.3,316.6 757.6,316.5 757.9,316.5 758.2,316.4 758.5,316.4 758.8,316.4 759.1,316.4 759.4,316.4 759.7,316.5 760,316.5 760.3,316.6"/>
<polyline class="sig" stroke="#0000ff" style="stroke-width:0.67" points="167.6,80.9 167.9,180.4 168.2,316.5 168.5,450.3 168.8,548.3 169.1,584.2 169.4,548.3 169.7,450.3 170,316.5 170.3,180.4 170.6,80.8 170.9,44.3 171.2,80.8 171.5,180.4 171.8,316.5 172.1,450.4 172.4,548.4 172.7,584.3 173,548.4 173.3,450.4 173.6,316.5 173.9,180.4 174.2,80.7 174.5,44.2 174.8,80.7 175.1,180.3 175.4,316.5 175.7,450.4 176,548.5 176.3,584.4 176.6,548.5 176.9,450.4 177.3,316.5 177.6,180.3 177.9,80.6 178.2,44.1 178.5,80.6 178.8,180.3 179.1,316.5 179.4,450.5 179.7,548.5 180,584.5 180.3,548.6 180.6,450.5 180.9,316.5 181.2,180.3 181.5,80.5 181.8,44 182.1,80.5 182.4,180.2 182.7,316.5 183,450.5 183.3,548.6 183.6,584.6 183.9,548.6 184.2,450.5 184.5,316.5 184.8,180.2 185.1,80.4 185.4,43.9 185.7,80.4 186,180.2 186.3,316.5 186.6,450.6 186.9,548.7 187.2,584.6 187.5,548.7 187.8,450.6 188.1,316.5 188.4,180.2 188.7,80.3 189,43.8 189.3,80.3 189.6,180.1 189.9,316.5 190.2,450.6 190.5,548.8 190.8,584.7 191.1,548.8 191.4,450.6 191.7,316.5 192,180.1 192.3,80.3 192.6,43.7 192.9,80.2 193.2,180.1 193.5,316.5 193.8,450.7 194.1,548.9 194.4,584.8 194.7,548.9 195,450.7 195.3,316.5 195.6,180.1 195.9,80.2 196.2,43.6 196.5,80.2 196.8,180 197.1,316.5 197.4,450.7 197.7,549 198,584.9 198.3,549 198.6,450.7 198.9,316.5 199.2,180 199.5,80.1 199.8,43.5 200.1,80.1 200.4,180 200.7,316.5 201,450.7 201.3,549 201.6,585 201.9,549 202.2,450.8 202.5,316.5 202.8,180 203.1,80.1 203.4,43.5 203.7,80.1 204,180 204.3,316.5 204.6,450.7 204.9,549 205.2,585 205.5,549 205.8,450.7 206.1,316.5 206.4,180 206.7,80.1 207,43.5 207.3,80.1 207.6,180 207.9,316.5 208.2,450.7 208.5,549 208.8,585 209.1,549 209.4,450.7 209.7,316.5 210,180 210.3,80.1 210.6,43.5 210.9,80.1 211.2,180 211.5,316.5 211.8,450.8 212.1,549 212.4,585 212.7,549 213,450.8 213.3,316.5 213.6,180 213.9,80.1 214.2,43.5 214.5,80.1 214.8,180 215.1,316.5 215.4,450.8 215.7,549 216,585 216.3,549 216.6,450.8 216.9,316.5 217.2,180 217.5,80.1 217.8,43.5 218.1,80.1 218.4,180 218.7,316.5 219,450.7 219.3,549 219.6,585 219.9,549 220.2,450.8 220.5,316.5 220.8,180 221.1,80.1 221.4,43.5 221.7,80.1 222,180 222.3,316.5 222.6,450.7 222.9,549 223.2,585 223.5,549 223.8,450.8 224.1,316.5 224.4,180 224.7,80.1 225,43.5 225.3,80.1 225.6,180 225.9,316.5 226.2,450.7 226.5,549 226.8,585 227.1,549 227.4,450.7 227.7,316.5 228,180 228.3,80.1 228.6,43.5 228.9,80.1 229.2,180 229.5,316.5 229.8,450.7 230.1,549 230.4,585 230.7,549 231,450.8 231.3,316.5 231.6,180 231.9,80.1 232.2,43.5 232.5,80.1 232.8,180 233.1,316.5 233.4,450.8 233.7,549 234,585 234.4,549 234.7,450.8 235,316.5 235.3,180 235.6,80.1 235.9,43.5 236.2,80.1 236.5,180 236.8,316.5 237.1,450.7 237.4,549 237.7,585 238,549 238.3,450.8 238.6,316.5 238.9,180 239.2,80.1 239.5,43.5 239.8,80.1 240.1,180 240.4,316.5 240.7,450.7 241,549 241.3,585 241.6,549 241.9,450.8 242.2,316.5 242.5,180 242.8,80.1 243.1,43.5 243.4,80.1 243.7,180 244,316.5 244.3,450.8 244.6,549 244.9,585 245.2,549 245.5,450.7 245.8,316.5 246.1,180 246.4,80.1 246.7,43.5 247,80.1 247.3,180 247.6,316.5 247.9,450.7 248.2,549 248.5,585 248.8,549 249.1,450.8 249.4,316.5 249.7,180 250,80.1 250.3,43.5 250.6,80.1 250.9,180 251.2,316.5 251.5,450.7 251.8,549 252.1,585 252.4,549 252.7,450.8 253,316.5 253.3,180 253.6,80.1 253.9,43.5 254.2,80.1 254.5,180 254.8,316.5 255.1,450.7 255.4,549 255.7,585 256,549 256.3,450.7 256.6,316.5 256.9,180 257.2,80.1 257.5,43.5 257.8,80.1 258.1,180 258.4,316.5 258.7,450.7 259,549 259.3,585 259.6,549 259.9,450.8 260.2,316.5 260.5,180 260.8,80.1 261.1,43.5"/>
<polyline class="sig" stroke="#ff0000" style="stroke-width:0.67" points="478.2,316.5 478.5,315.1 478.8,314.1 479.1,313.8 479.4,314.2 479.7,315.2 480,316.5 480.3,317.7 480.6,318.6 480.9,318.8 481.2,318.5 481.5,317.6 481.8,316.5 482.1,315.4 482.4,314.7 482.7,314.5 483,314.8 483.3,315.6 483.6,316.6 483.9,317.5 484.2,318.1 484.5,318.3 484.8,318 485.1,317.3 485.4,316.4 485.7,315.6 486,315.1 486.3,314.9 486.6,315.2 486.9,315.8 487.2,316.6 487.5,317.3 487.9,317.7 488.2,317.9 488.5,317.6 488.8,317.1 489.1,316.4 489.4,315.8 489.7,315.4 490,315.3 490.3,315.5 490.6,316 490.9,316.6 491.2,317.1 491.5,317.5 491.8,317.5 492.1,317.3 492.4,316.9 492.7,316.4 493,315.9 493.3,315.6 493.6,315.6 493.9,315.8 494.2,316.1 494.5,316.6 494.8,317 495.1,317.3 495.4,317.3 495.7,317.1 496,316.8 496.3,316.4 496.6,316.1 496.9,315.8 497.2,315.8 497.5,315.9 497.8,316.2 498.1,316.6 498.4,316.9 498.7,317.1 499,317.1 499.3,317 499.6,316.7 499.9,316.4 500.2,316.1 500.5,316 500.8,316 501.1,316.1 501.4,316.3 501.7,316.6 502,316.8 502.3,317 502.6,317 502.9,316.9 503.2,316.7 503.5,316.4 503.8,316.2 504.1,316.1 504.4,316.1 504.7,316.2 505,316.4 505.3,316.6 505.6,316.8 505.9,316.9 506.2,316.9 506.6,316.8 506.9,316.6 507.2,316.4 507.5,316.3 507.8,316.2 508.1,316.2 508.4,316.2 508.7,316.4 509,316.6 509.3,316.7 509.6,316.8 509.9,316.8 510.2,316.7 510.5,316.6 510.8,316.4 511.1,316.3 511.4,316.2 511.7,316.2 512,316.3 512.3,316.4 512.6,316.6 512.9,316.7 513.2,316.7 513.5,316.7 513.8,316.7 514.1,316.6 514.4,316.4 514.7,316.3 515,316.3 515.3,316.3 515.6,316.3 515.9,316.4 516.2,316.5 516.5,316.6 516.8,316.7 517.1,316.7 517.4,316.6 517.7,316.6 518,316.5 518.3,316.4 518.6,316.3 518.9,316.3 519.2,316.4 519.5,316.5 519.8,316.5 520.1,316.6 520.4,316.7 520.7,316.7 521,316.6 521.3,316.5 521.6,316.5 521.9,316.4 522.2,316.4 522.5,316.4 522.8,316.4 523.1,316.5 523.4,316.5 523.7,316.6 524,316.6 524.3,316.6 524.6,316.6 524.9,316.5 525.2,316.5 525.6,316.4 525.9,316.4 526.2,316.4 526.5,316.4 526.8,316.5 527.1,316.5 527.4,316.6 527.7,316.6 528,316.6 528.3,316.6 528.6,316.5 528.9,316.5 529.2,316.4 529.5,316.4 529.8,316.4 530.1,316.4 530.4,316.5 530.7,316.5 531,316.6 531.3,316.6 531.6,316.6 531.9,316.6 532.2,316.5 532.5,316.5 532.8,316.4 533.1,316.4 533.4,316.4 533.7,316.4 534,316.5 534.3,316.5 534.6,316.6 534.9,316.6 535.2,316.6 535.5,316.6 535.8,316.5 536.1,316.5 536.4,316.4 536.7,316.4 537,316.4 537.3,316.4 537.6,316.5 537.9,316.5 538.2,316.6 538.5,316.6 538.8,316.6 539.1,316.6 539.4,316.5 539.7,316.5 540,316.4 540.3,316.4 540.6,316.4 540.9,316.4 541.2,316.5 541.5,316.5 541.8,316.6 542.1,316.6 542.4,316.6 542.7,316.5 543,316.5 543.3,316.5 543.6,316.4 543.9,316.4 544.3,316.4 544.6,316.5 544.9,316.5 545.2,316.5 545.5,316.6 545.8,316.6 546.1,316.6 546.4,316.5 546.7,316.5 547,316.5 547.3,316.4 547.6,316.4 547.9,316.4 548.2,316.5 548.5,316.5 548.8,316.5 549.1,316.6 549.4,316.6 549.7,316.6 550,316.5 550.3,316.5 550.6,316.5 550.9,316.4 551.2,316.4 551.5,316.4 551.8,316.5 552.1,316.5 552.4,316.5 552.7,316.6 553,316.6 553.3,316.6 553.6,316.5 553.9,316.5 554.2,316.5 554.5,316.4 554.8,316.4 555.1,316.4 555.4,316.5 555.7,316.5 556,316.5 556.3,316.6 556.6,316.6 556.9,316.6 557.2,316.5 557.5,316.5 557.8,316.5 558.1,316.4 558.4,316.4 558.7,316.4 559,316.5 559.3,316.5 559.6,316.5 559.9,316.6 560.2,316.6 560.5,316.6 560.8,316.5 561.1,316.5 561.4,316.5 561.7,316.4 562,316.4 562.3,316.4 562.6,316.5 563,316.5 563.3,316.5 563.6,316.6 563.9,316.6 564.2,316.6 564.5,316.5 564.8,316.5 565.1,316.5 565.4,316.4 565.7,316.4 566,316.4 566.3,316.5 566.6,316.5 566.9,316.5 567.2,316.6 567.5,316.6 567.8,316.6 568.1,316.5 568.4,316.5 568.7,316.5 569,316.4 569.3,316.4 569.6,316.4 569.9,316.5 570.2,316.5 570.5,316.5 570.8,316.6 571.1,316.6 571.4,316.6 571.7,316.5 572,316.5 572.3,316.5"/>
</g>
<g clip-path="url(#cr)">
<polyline class="sig" stroke="#00ff00" points="787,291 787.2,329 787.9,305 788.6,318 789.4,311 790.3,322 791.1,316 792.1,328 793.2,336.3 793.8,330.4 794.5,328.1 795.1,324.9 795.8,314.2 796.4,300.7 797,293.6 797.7,293 798.3,291.6 798.8,290.8 799.3,296 799.9,308.9 800.4,325.5 800.9,339.4 801.5,347.9 802,352.8 802.5,356.2 803.1,355.9 803.6,347.1 804.2,329.8 804.8,309.9 805.3,293.4 805.9,281.5 806.4,272.1 807,266.1 807.3,269 807.6,280.6 807.9,299.2 808.2,321.8 808.5,344.5 808.8,363.6 809.1,375.8 809.4,379.2 809.9,371.9 810.4,356.5 810.9,336.2 811.4,312.7 811.9,287.4 812.4,264.1 812.9,248 813.4,243.1 813.7,249.7 814,266.8 814.3,291.6 814.5,319.9 814.8,347.6 815.1,370.5 815.4,385.5 815.7,390.5 816.1,384.7 816.5,368.8 816.9,344.6 817.2,315 817.6,284.3 818,257.5 818.4,239.6 818.8,233.8 819.1,240.9 819.4,260.1 819.7,288.2 820,320.7 820.3,352.6 820.6,379.1 820.9,396.5 821.2,402.5 821.5,395.6 821.9,376.6 822.2,348 822.5,313.9 822.8,279.1 823.1,249 823.5,228.4 823.8,220.8 824.1,227.9 824.4,249 824.7,280.7 825,318 825.3,355 825.6,386 825.9,406.2 826.2,412.8 826.5,404.4 826.8,382.1 827.1,349.4 827.5,311.1 827.8,272.8 828.1,240.1 828.4,217.9 828.7,209.6 829,217.4 829.2,240.6 829.5,275.9 829.8,317.8 830,360.1 830.3,396.1 830.5,420.3 830.8,428.9 831.1,420.1 831.5,394.8 831.9,357.2 832.2,313.2 832.5,269.7 832.9,233.3 833.2,209.2 833.6,200.8 833.8,209.9 834,235.9 834.1,274.7 834.3,320.6 834.5,366.4 834.6,405.2 834.8,431.1 835,440.3 835.3,430.8 835.6,403.8 835.9,363.2 836.2,315.1 836.5,266.8 836.8,225.5 837.1,197.6 837.4,187.5 837.7,197.3 838,225.8 838.3,268.6 838.5,319.2 838.8,369.6 839.1,412.3 839.4,440.5 839.7,450.2 839.9,439.5 840.2,410 840.4,366.1 840.7,314.4 840.9,263 841.1,219.5 841.4,190.5 841.6,180.5 841.9,191.1 842.2,220.8 842.5,265.3 842.8,317.8 843,370.3 843.3,415.1 843.6,445.2 843.9,456 844.1,445.4 844.3,415 844.5,369.2 844.7,315.1 844.9,260.9 845.1,214.8 845.3,184 845.5,173 845.8,183.8 846.1,215.3 846.4,262.7 846.7,318.6 847,374.6 847.3,421.9 847.6,453.3 847.9,464.1 848.1,452.6 848.4,420.3 848.6,372.2 848.8,315.6 849.1,259.1 849.3,211.3 849.6,179.4 849.8,168.3 850,179.8 850.3,212.2 850.5,260.7 850.8,317.8 851,375 851.3,423.4 851.5,455.9 851.8,467.4 852,456 852.3,423.1 852.5,373.8 852.8,315.6 853,257.2 853.2,207.6 853.5,174.3 853.7,162.6 854,174.3 854.3,208.2 854.6,259.2 854.9,319.3 855.1,379.5 855.4,430.4 855.7,464.4 856,476 856.3,455.1 856.7,397 857,317 857.3,236.8 857.7,177.9 858,156.1 858.3,177.3 858.6,236.2 859,317 859.3,398.8 859.6,459.1 860,481.5 860.3,459.9 860.6,399.7 860.9,317 861.3,234.7 861.6,173.9 861.9,151.1 862.2,172.8 862.5,233.4 862.9,317 863.2,401.5 863.5,463.7 863.8,486.9 864.1,464.5 864.4,402.4 864.8,317 865.1,231 865.4,167.5 865.7,143.8 866,166.5 866.3,229.8 866.6,317 867,404.1 867.3,468.3 867.6,492.1 867.9,469 868.2,405 868.5,317 868.8,227.9 869.1,162.3 869.4,138 869.7,161.7 870,227.2 870.3,317 870.6,406.7 870.9,472.7 871.2,497.2 871.5,473.4 871.8,407.5 872.1,317 872.4,225.8 872.7,158.7 873,133.9 873.3,158.1 873.6,225.1 873.9,317 874.2,409.2 874.5,477 874.8,502.1 875.1,477.6 875.4,409.9 875.7,317 876,223.6 876.3,154.9 876.6,129.5 876.9,154.2 877.2,222.8 877.4,317 877.7,411.3 878,480.6 878.3,506.3 878.6,481.2 878.9,412 879.2,317 879.5,221.3 879.7,150.9 880,124.8 880.3,150.2 880.6,220.5 880.9,317 881.2,413.3 881.4,484.1 881.7,510.3 882,484.7 882.3,414 882.6,317 882.8,219.1 883.1,147.2 883.4,120.7 883.7,146.7 884,218.5 884.2,317 884.5,415.3 884.8,487.6 885.1,514.3 885.3,488.1 885.6,416 885.9,317 886.2,217.3 886.5,144.1 886.7,117 887,143.6 887.3,216.7 887.6,317 887.8,417.3 888.1,491 888.4,518.2 888.6,491.5 888.9,417.9 889.2,317 889.5,215.5 889.7,141 890,113.4 890.3,140.4 890.6,214.9 890.8,317 891.1,419.2 891.4,494.3 891.6,522.1 891.9,494.9 892.2,419.8 892.4,317 892.7,213.7 893,137.8 893.2,109.8 893.5,137.3 893.8,213.1 894,317 894.3,420.7 894.6,496.8 894.8,524.8 895.1,497.2 895.4,421.1 895.6,317 895.9,211.9 896.2,134.6 896.4,106 896.7,134 897,211.2 897.2,317 897.5,421.9 897.7,498.8 898,527.2 898.3,499.2 898.5,422.3 898.8,317 899.1,209.7 899.3,130.9 899.6,101.8 899.8,130.3 900.1,209 900.4,317 900.6,423 900.9,500.8 901.1,529.4 901.4,501.1 901.6,423.4 901.9,317 902.2,207.7 902.4,127.5 902.7,97.9 902.9,127.1 903.2,207.2 903.4,317 903.7,424.2 903.9,502.8 904.2,531.7 904.5,503.1 904.7,424.5 905,317 905.2,206.3 905.5,125.1 905.7,95.2 906,124.7 906.2,205.9 906.5,317 906.7,425.3 907,504.7 907.2,533.9 907.5,505 907.7,425.6 908,317 908.3,205 908.5,122.8 908.8,92.5 909,122.4 909.3,204.5 909.5,317 909.8,426.4 910,506.6 910.3,536.2 910.5,507 910.8,426.8 911,317 911.3,203.6 911.5,120.5 911.8,89.9 912,120.2 912.3,203.3 912.5,317 912.8,427.5 913,508.6 913.3,538.4 913.5,508.9 913.8,427.9 914,317 914.3,202.8 914.5,119 914.8,88.2 915,118.8 915.3,202.5 915.5,317 915.8,428.6 916,510.5 916.3,540.7 916.5,510.9 916.8,429 917,317 917.3,201.9 917.5,117.6 917.8,86.6 918,117.3 918.3,201.7 918.5,317 918.8,429.8 919,512.5 919.3,542.9 919.5,512.8 919.8,430.1 920,317 920.3,201.1 920.5,116.1 920.8,84.9 921,115.9 921.3,200.8 921.5,317 921.8,430.9 922,514.4 922.2,545.1 922.5,514.6 922.7,431.2 923,317 923.2,200.3 923.5,114.7 923.7,83.2 924,114.4 924.2,200 924.5,317 924.7,431.7 925,515.7 925.2,546.6 925.5,515.9 925.7,431.9 926,317 926.2,199.4 926.4,113.1 926.7,81.4 926.9,112.9 927.2,199.1 927.4,317 927.7,432.4 927.9,517 928.2,548.1 928.4,517.2 928.7,432.6 928.9,317 929.2,198.5 929.4,111.5 929.6,79.6 929.9,111.3 930.1,198.2 930.4,317 930.6,433.1 930.9,518.3 931.1,549.5 931.4,518.5 931.6,433.4 931.8,317 932.1,197.6 932.3,110 932.6,77.8 932.8,109.7 933.1,197.3 933.3,317 933.6,433.9 933.8,519.5 934,551 934.3,519.8 934.5,434.1 934.8,317 935,196.7 935.3,108.5 935.5,76.1 935.7,108.3 936,196.4 936.2,317 936.5,434.6 936.7,520.8 937,552.5 937.2,521 937.4,434.9 937.7,317 937.9,196 938.2,107.3 938.4,74.7 938.7,107 938.9,195.7 939.1,317 939.4,435.3 939.6,522.1 939.9,553.9 940.1,522.3 940.3,435.6 940.6,317 940.8,195.3 941.1,106 941.3,73.3 941.6,105.8 941.8,195 942,317 942.3,436"/>
<polyline class="sig" stroke="#00ff00" points="1035.1,539.6 1035.3,574 1035.5,539.6 1035.8,445.5 1036,317 1036.2,186.9 1036.4,91.7 1036.7,56.8 1036.9,91.7 1037.1,186.9 1037.4,317 1037.6,445.5 1037.8,539.7 1038.1,574.1 1038.3,539.7 1038.5,445.6 1038.7,317 1039,186.8 1039.2,91.6 1039.4,56.7 1039.7,91.5 1039.9,186.8 1040.1,317 1040.4,445.6 1040.6,539.7 1040.8,574.2 1041,539.7 1041.3,445.6 1041.5,317 1041.7,186.8 1042,91.5 1042.2,56.5 1042.4,91.4 1042.6,186.8 1042.9,317 1043.1,445.6 1043.3,539.8 1043.6,574.2 1043.8,539.8 1044,445.6 1044.3,317 1044.5,186.7 1044.7,91.3 1044.9,56.4 1045.2,91.3 1045.4,186.7 1045.6,317 1045.9,445.7 1046.1,539.8 1046.3,574.3 1046.6,539.9 1046.8,445.7 1047,317 1047.2,186.7 1047.5,91.2 1047.7,56.3 1047.9,91.2 1048.2,186.6 1048.4,317 1048.6,445.7 1048.8,539.9 1049.1,574.4 1049.3,539.9 1049.5,445.7 1049.8,317 1050,186.6 1050.2,91.1 1050.4,56.2 1050.7,91.1 1050.9,186.6 1051.1,317 1051.4,445.7 1051.6,540 1051.8,574.5 1052.1,540 1052.3,445.7 1052.5,317 1052.7,186.5 1053,91 1053.2,56 1053.4,91 1053.7,186.5 1053.9,317 1054.1,445.8 1054.3,540 1054.6,574.5 1054.8,540 1055,445.8 1055.3,317 1055.5,186.5 1055.7,90.9 1055.9,55.9 1056.2,90.9 1056.4,186.5 1056.6,317 1056.9,445.8 1057.1,540.1 1057.3,574.6 1057.6,540.1 1057.8,445.8 1058,317 1058.2,186.4 1058.5,90.8 1058.7,55.8 1058.9,90.8 1059.2,186.4 1059.4,317 1059.6,445.9 1059.8,540.2 1060.1,574.8 1060.3,540.3 1060.5,445.9 1060.8,317 1061,186.4 1061.2,90.7 1061.4,55.7 1061.7,90.7 1061.9,186.3 1062.1,317 1062.4,446 1062.6,540.4 1062.8,575 1063.1,540.4 1063.3,446 1063.5,317 1063.7,186.3 1064,90.6 1064.2,55.6 1064.4,90.6 1064.7,186.3 1064.9,317 1065.1,446.1 1065.3,540.6 1065.6,575.2 1065.8,540.6 1066,446.1 1066.3,317 1066.5,186.3 1066.7,90.5 1066.9,55.5 1067.2,90.5 1067.4,186.2 1067.6,317 1067.9,446.2 1068.1,540.7 1068.3,575.3 1068.6,540.7 1068.8,446.2 1069,317 1069.2,186.2 1069.5,90.5 1069.7,55.4 1069.9,90.4 1070.2,186.2 1070.4,317 1070.6,446.2 1070.8,540.9 1071.1,575.5 1071.3,540.9 1071.5,446.3 1071.8,317 1072,186.2 1072.2,90.4 1072.4,55.3 1072.7,90.3 1072.9,186.1 1073.1,317 1073.4,446.3 1073.6,541 1073.8,575.7 1074,541 1074.3,446.4 1074.5,317 1074.7,186.1 1075,90.3 1075.2,55.2 1075.4,90.3 1075.7,186.1 1075.9,317 1076.1,446.4 1076.3,541.2 1076.6,575.9 1076.8,541.2 1077,446.4 1077.3,317 1077.5,186 1077.7,90.2 1077.9,55.1 1078.2,90.2 1078.4,186 1078.6,317 1078.9,446.5 1079.1,541.3 1079.3,576 1079.5,541.3 1079.8,446.5 1080,317 1080.2,186 1080.5,90.1 1080.7,55 1080.9,90.1 1081.2,186 1081.4,317 1081.6,446.6 1081.8,541.5 1082.1,576.2 1082.3,541.5 1082.5,446.6 1082.8,317 1083,185.9 1083.2,90 1083.4,54.9 1083.7,90 1083.9,185.9 1084.1,317 1084.4,446.7 1084.6,541.6 1084.8,576.4 1085,541.7 1085.3,446.7 1085.5,317 1085.7,185.9 1086,89.9 1086.2,54.8 1086.4,89.9 1086.6,185.9 1086.9,317 1087.1,446.8 1087.3,541.8 1087.6,576.6 1087.8,541.8 1088,446.8 1088.3,317 1088.5,185.8 1088.7,89.8 1088.9,54.6 1089.2,89.8 1089.4,185.8 1089.6,317 1089.9,446.9 1090.1,542 1090.3,576.8 1090.5,542 1090.8,446.9 1091,317 1091.2,185.8 1091.5,89.7 1091.7,54.5 1091.9,89.7 1092.1,185.8 1092.4,317 1092.6,447 1092.8,542.1 1093.1,577 1093.3,542.2 1093.5,447 1093.8,317 1094,185.7 1094.2,89.6 1094.4,54.4 1094.7,89.6 1094.9,185.7 1095.1,317 1095.4,447.1 1095.6,542.3 1095.8,577.2 1096,542.3 1096.3,447.1 1096.5,317 1096.7,185.7 1097,89.6 1097.2,54.4 1097.4,89.6 1097.6,185.7 1097.9,317 1098.1,447.2 1098.3,542.5 1098.6,577.4 1098.8,542.5 1099,447.2 1099.2,317 1099.5,185.7 1099.7,89.6 1099.9,54.4 1100.2,89.6 1100.4,185.7 1100.6,317 1100.9,447.3 1101.1,542.6 1101.3,577.5 1101.5,542.6 1101.8,447.2 1102,317 1102.2,185.7 1102.5,89.6 1102.7,54.4 1102.9,89.6 1103.1,185.7 1103.4,317 1103.6,447.3 1103.8,542.6 1104.1,577.5 1104.3,542.6 1104.5,447.2 1104.7,317 1105,185.7 1105.2,89.6 1105.4,54.4 1105.7,89.6 1105.9,185.7 1106.1,317 1106.3,447.3 1106.6,542.6 1106.8,577.5 1107,542.6 1107.3,447.2 1107.5,317 1107.7,185.7 1108,89.6 1108.2,54.4 1108.4,89.6 1108.6,185.7 1108.9,317 1109.1,447.3 1109.3,542.6 1109.6,577.5 1109.8,542.6 1110,447.2 1110.2,317 1110.5,185.7 1110.7,89.6 1110.9,54.4 1111.2,89.6 1111.4,185.7 1111.6,317 1111.8,447.3 1112.1,542.6 1112.3,577.5 1112.5,542.6 1112.8,447.2 1113,317 1113.2,185.7 1113.4,89.6 1113.7,54.4 1113.9,89.6 1114.1,185.7 1114.4,317 1114.6,447.3 1114.8,542.6 1115.1,577.5 1115.3,542.6 1115.5,447.2 1115.7,317 1116,185.7 1116.2,89.6 1116.4,54.4 1116.7,89.6 1116.9,185.7 1117.1,317 1117.3,447.3 1117.6,542.6 1117.8,577.5 1118,542.6 1118.3,447.2 1118.5,317 1118.7,185.7 1118.9,89.6 1119.2,54.4 1119.4,89.6 1119.6,185.7 1119.9,317 1120.1,447.3 1120.3,542.6 1120.5,577.5 1120.8,542.6 1121,447.2 1121.2,317 1121.5,185.7 1121.7,89.6 1121.9,54.4 1122.1,89.6 1122.4,185.7 1122.6,317 1122.8,447.3 1123.1,542.6 1123.3,577.5 1123.5,542.6 1123.8,447.2 1124,317 1124.2,185.7 1124.4,89.6 1124.7,54.4 1124.9,89.6 1125.1,185.7 1125.4,317 1125.6,447.3 1125.8,542.6 1126,577.5 1126.3,542.6 1126.5,447.2 1126.7,317 1127,185.7 1127.2,89.6 1127.4,54.4 1127.6,89.6 1127.9,185.7 1128.1,317 1128.3,447.3 1128.6,542.6 1128.8,577.5 1129,542.6 1129.2,447.2 1129.5,317 1129.7,185.7 1129.9,89.6 1130.2,54.4 1130.4,89.6 1130.6,185.7 1130.9,317 1131.1,447.3 1131.3,542.6 1131.5,577.5 1131.8,542.6 1132,447.2 1132.2,317 1132.5,185.7 1132.7,89.6 1132.9,54.4 1133.1,89.6 1133.4,185.7 1133.6,317 1133.8,447.3 1134.1,542.6 1134.3,577.5 1134.5,542.6 1134.7,447.2 1135,317 1135.2,185.7 1135.4,89.6 1135.7,54.4 1135.9,89.6 1136.1,185.7 1136.3,317 1136.6,447.3 1136.8,542.6 1137,577.5 1137.3,542.6 1137.5,447.2 1137.7,317 1137.9,185.7 1138.2,89.6 1138.4,54.4 1138.6,89.6 1138.9,185.7 1139.1,317 1139.3,447.3 1139.6,542.6 1139.8,577.5 1140,542.6 1140.2,447.2 1140.5,317 1140.7,185.7 1140.9,89.6 1141.2,54.4 1141.4,89.6 1141.6,185.7 1141.8,317 1142.1,447.3 1142.3,542.6 1142.5,577.5 1142.8,542.6 1143,447.2 1143.2,317 1143.4,185.7 1143.7,89.6 1143.9,54.4 1144.1,89.6 1144.4,185.7 1144.6,317 1144.8,447.3 1145,542.6 1145.3,577.5 1145.5,542.6 1145.7,447.2 1146,317 1146.2,185.7 1146.4,89.6 1146.6,54.4 1146.9,89.6 1147.1,185.7 1147.3,317 1147.6,447.3 1147.8,542.6 1148,577.5 1148.3,542.6 1148.5,447.2 1148.7,317 1148.9,185.7 1149.2,89.6 1149.4,54.4 1149.6,89.6 1149.9,185.7 1150.1,317 1150.3,447.3 1150.5,542.6 1150.8,577.5 1151,542.6 1151.2,447.2 1151.5,317 1151.7,185.7 1151.9,89.6 1152.1,54.4 1152.4,89.6 1152.6,185.7 1152.8,317 1153.1,447.3 1153.3,542.6 1153.5,577.5 1153.7,542.6 1154,447.2 1154.2,317 1154.4,185.7 1154.7,89.6 1154.9,54.4 1155.1,89.6 1155.3,185.7 1155.6,317 1155.8,447.3 1156,542.6 1156.3,577.5 1156.5,542.6 1156.7,447.2 1157,317 1157.2,185.7 1157.4,89.6 1157.6,54.4 1157.9,89.6 1158.1,185.7 1158.3,317 1158.6,447.3 1158.8,542.6 1159,577.5 1159.2,542.6 1159.5,447.2 1159.7,317 1159.9,185.7 1160.2,89.6 1160.4,54.4 1160.6,89.6 1160.8,185.7 1161.1,317 1161.3,447.3 1161.5,542.6 1161.8,577.5 1162,542.6 1162.2,447.2 1162.4,317 1162.7,185.7 1162.9,89.6 1163.1,54.4 1163.4,89.6 1163.6,185.7 1163.8,317 1164,447.3 1164.3,542.6 1164.5,577.5 1164.7,542.6 1165,447.2 1165.2,317 1165.4,185.7 1165.6,89.6 1165.9,54.4 1166.1,89.6 1166.3,185.7 1166.6,317 1166.8,447.3 1167,542.6 1167.3,577.5 1167.5,542.6 1167.7,447.2 1167.9,317 1168.2,185.7 1168.4,89.6 1168.6,54.4 1168.9,89.6 1169.1,185.7 1169.3,317 1169.5,447.3 1169.8,542.6 1170,577.5 1170.2,542.6 1170.5,447.2 1170.7,317 1170.9,185.7 1171.1,89.6 1171.4,54.4 1171.6,89.6 1171.8,185.7 1172.1,317 1172.3,447.3 1172.5,542.6 1172.7,577.5 1173,542.6 1173.2,447.2 1173.4,317 1173.7,185.7 1173.9,89.6 1174.1,54.4 1174.3,89.6 1174.6,185.7 1174.8,317 1175,447.3 1175.3,542.6 1175.5,577.5 1175.7,542.6 1175.9,447.2 1176.2,317 1176.4,185.7 1176.6,89.6 1176.9,54.4 1177.1,89.6 1177.3,185.7 1177.5,317 1177.8,447.3 1178,542.6 1178.2,577.5 1178.5,542.6 1178.7,447.2 1178.9,317 1179.2,185.7 1179.4,89.6 1179.6,54.4 1179.8,89.6 1180.1,185.7 1180.3,317 1180.5,447.3 1180.8,542.6 1181,577.5 1181.2,542.6 1181.4,447.2 1181.7,317 1181.9,185.7 1182.1,89.6 1182.4,54.4 1182.6,89.6 1182.8,185.7 1183,317 1183.3,447.3 1183.5,542.6 1183.7,577.5 1184,542.6 1184.2,447.2 1184.4,317 1184.6,185.7 1184.9,89.6 1185.1,54.4 1185.3,89.6 1185.6,185.7 1185.8,317 1186,447.3 1186.2,542.6 1186.5,577.5 1186.7,542.6 1186.9,447.2 1187.2,317 1187.4,185.7 1187.6,89.6 1187.8,54.4 1188.1,89.6 1188.3,185.7 1188.5,317 1188.8,447.3 1189,542.6 1189.2,577.5 1189.4,542.6 1189.7,447.2 1189.9,317 1190.1,185.7 1190.4,89.6 1190.6,54.4 1190.8,89.6 1191.1,185.7 1191.3,317 1191.5,447.3 1191.7,542.6 1192,577.5 1192.2,542.6 1192.4,447.2 1192.7,317 1192.9,185.7 1193.1,89.6 1193.3,54.4 1193.6,89.6 1193.8,185.7 1194,317 1194.3,447.3 1194.5,542.6 1194.7,577.5 1194.9,542.6 1195.2,447.2 1195.4,317 1195.6,185.7 1195.9,89.6 1196.1,54.4 1196.3,89.6 1196.5,185.7 1196.8,317 1197,447.3 1197.2,542.6 1197.5,577.5 1197.7,542.6 1197.9,447.2 1198.1,317 1198.4,185.7 1198.6,89.6 1198.8,54.4 1199.1,89.6 1199.3,185.7 1199.5,317 1199.7,447.3 1200,542.6 1200.2,577.5 1200.4,542.6 1200.7,447.2 1200.9,317 1201.1,185.7 1201.3,89.6 1201.6,54.4 1201.8,89.6 1202,185.7 1202.3,317 1202.5,447.3 1202.7,542.6 1202.9,577.5 1203.2,542.6 1203.4,447.2 1203.6,317 1203.9,185.7 1204.1,89.6 1204.3,54.4 1204.6,89.6 1204.8,185.7 1205,317 1205.2,447.3 1205.5,542.6 1205.7,577.5 1205.9,542.6 1206.2,447.2 1206.4,317 1206.6,185.7 1206.8,89.6 1207.1,54.4 1207.3,89.6 1207.5,185.7 1207.8,317 1208,447.3 1208.2,542.6 1208.4,577.5 1208.7,542.6 1208.9,447.2 1209.1,317 1209.4,185.7 1209.6,89.6 1209.8,54.4 1210,89.6 1210.3,185.7 1210.5,317 1210.7,447.3 1211,542.6 1211.2,577.5 1211.4,542.6 1211.6,447.2 1211.9,317 1212.1,185.7 1212.3,89.6 1212.6,54.4 1212.8,89.6 1213,185.7 1213.2,317 1213.5,447.3 1213.7,542.6 1213.9,577.5 1214.2,542.6 1214.4,447.2 1214.6,317 1214.8,185.7 1215.1,89.6 1215.3,54.4 1215.5,89.6 1215.8,185.7 1216,317 1216.2,447.3 1216.4,542.6 1216.7,577.5 1216.9,542.6 1217.1,447.2 1217.4,317 1217.6,185.7 1217.8,89.6 1218,54.4 1218.3,89.6 1218.5,185.7 1218.7,317 1219,447.3 1219.2,542.6 1219.4,577.5 1219.7,542.6 1219.9,447.2 1220.1,317 1220.3,185.7 1220.6,89.6 1220.8,54.4 1221,89.6 1221.3,185.7 1221.5,317 1221.7,447.3 1221.9,542.6 1222.2,577.5 1222.4,542.6 1222.6,447.2 1222.9,317 1223.1,185.7 1223.3,89.6 1223.5,54.4 1223.8,89.6 1224,185.7 1224.2,317 1224.5,447.3 1224.7,542.6 1224.9,577.5 1225.1,542.6 1225.4,447.2 1225.6,317 1225.8,185.7 1226.1,89.6 1226.3,54.4 1226.5,89.6 1226.7,185.7 1227,317 1227.2,447.3 1227.4,542.6 1227.7,577.5 1227.9,542.6 1228.1,447.2 1228.3,317 1228.6,185.7 1228.8,89.6 1229,54.4 1229.3,89.6 1229.5,185.7 1229.7,317 1229.9,447.3 1230.2,542.6 1230.4,577.5 1230.6,542.6 1230.9,447.2 1231.1,317 1231.3,185.7 1231.5,89.6 1231.8,54.4 1232,89.6 1232.2,185.7 1232.5,317 1232.7,447.3 1232.9,542.6 1233.1,577.5 1233.4,542.6 1233.6,447.2 1233.8,317 1234.1,185.7 1234.3,89.6 1234.5,54.4 1234.7,89.6 1235,185.7 1235.2,317 1235.4,447.3 1235.7,542.6 1235.9,577.5 1236.1,542.6 1236.3,447.2 1236.6,317 1236.8,185.7 1237,89.6 1237.3,54.4 1237.5,89.6 1237.7,185.7 1237.9,317 1238.2,447.3 1238.4,542.6 1238.6,577.5 1238.9,542.6 1239.1,447.2 1239.3,317 1239.6,185.7 1239.8,89.6 1240,54.4 1240.2,89.6 1240.5,185.7 1240.7,317 1240.9,447.3 1241.2,542.6 1241.4,577.5 1241.6,542.6 1241.8,447.2 1242.1,317 1242.3,185.7 1242.5,89.6 1242.8,54.4 1243,89.6 1243.2,185.7 1243.4,317 1243.7,447.3 1243.9,542.6 1244.1,577.5 1244.4,542.6 1244.6,447.2 1244.8,317 1245,185.7 1245.3,89.6 1245.5,54.4 1245.7,89.6 1246,185.7 1246.2,317 1246.4,447.3 1246.6,542.6 1246.9,577.5 1247.1,542.6 1247.3,447.2 1247.6,317 1247.8,185.7 1248,89.6 1248.2,54.4 1248.5,89.6 1248.7,185.7 1248.9,317 1249.2,447.3 1249.4,542.6 1249.6,577.5 1249.8,542.6 1250.1,447.2 1250.3,317 1250.5,185.7 1250.8,89.6 1251,54.4 1251.2,89.6 1251.4,185.7 1251.7,317 1251.9,447.3 1252.1,542.6 1252.4,577.5 1252.6,542.6 1252.8,447.2 1253,317 1253.3,185.7 1253.5,89.6 1253.7,54.4 1254,89.6 1254.2,185.7 1254.4,317 1254.6,447.3 1254.9,542.6 1255.1,577.5 1255.3,542.6 1255.6,447.2 1255.8,317 1256,185.7 1256.2,89.6 1256.5,54.4 1256.7,89.6 1256.9,185.7 1257.2,317 1257.4,447.3 1257.6,542.6 1257.8,577.5 1258.1,542.6 1258.3,447.2 1258.5,317 1258.8,185.7 1259,89.6 1259.2,54.4 1259.4,89.6 1259.7,185.7 1259.9,317 1260.1,447.3 1260.4,542.6 1260.6,577.5 1260.8,542.6 1261,447.2 1261.3,317 1261.5,185.7 1261.7,89.6 1262,54.4 1262.2,89.6 1262.4,185.7 1262.6,317 1262.9,447.3 1263.1,542.6 1263.3,577.5 1263.6,542.6 1263.8,447.2 1264,317 1264.2,185.7 1264.5,89.6 1264.7,54.4 1264.9,89.6 1265.2,185.7 1265.4,317 1265.6,447.3 1265.8,542.6 1266.1,577.5 1266.3,542.6 1266.5,447.2 1266.8,317 1267,185.7 1267.2,89.6 1267.4,54.4 1267.7,89.6 1267.9,185.7 1268.1,317 1268.4,447.3 1268.6,542.6 1268.8,577.5 1269,542.6 1269.3,447.2 1269.5,317 1269.7,185.7 1270,89.6 1270.2,54.4 1270.4,89.6 1270.6,185.7 1270.9,317 1271.1,447.3 1271.3,542.6 1271.6,577.5 1271.8,542.6 1272,447.2 1272.3,317 1272.5,185.7 1272.7,89.6 1272.9,54.4 1273.2,89.6 1273.4,185.7 1273.6,317 1273.9,447.3 1274.1,542.6 1274.3,577.5 1274.5,542.6 1274.8,447.2 1275,317 1275.2,185.7 1275.5,89.6 1275.7,54.4 1275.9,89.6 1276.1,185.7 1276.4,317 1276.6,447.3 1276.8,542.6 1277.1,577.5 1277.3,542.6 1277.5,447.2 1277.7,317 1278,185.7 1278.2,89.6 1278.4,54.4 1278.7,89.6 1278.9,185.7 1279.1,317 1279.3,447.3 1279.6,542.6 1279.8,577.5 1280,542.6 1280.3,447.2 1280.5,317 1280.7,185.7 1280.9,89.6 1281.2,54.4 1281.4,89.6 1281.6,185.7 1281.9,317 1282.1,447.3 1282.3,542.6 1282.5,577.5 1282.8,542.6 1283,447.2 1283.2,317 1283.5,185.7 1283.7,89.6 1283.9,54.4 1284.1,89.6 1284.4,185.7 1284.6,317 1284.8,447.3 1285.1,542.6 1285.3,577.5 1285.5,542.6 1285.7,447.2 1286,317 1286.2,185.7 1286.4,89.6 1286.7,54.4 1286.9,89.6 1287.1,185.7 1287.3,317 1287.6,447.3 1287.8,542.6 1288,577.5 1288.3,542.6 1288.5,447.2 1288.7,317 1288.9,185.7 1289.2,89.6 1289.4,54.4 1289.6,89.6 1289.9,185.7 1290.1,317 1290.3,447.3 1290.5,542.6 1290.8,577.5 1291,542.6 1291.2,447.2 1291.5,317 1291.7,185.7 1291.9,89.6 1292.1,54.4 1292.4,89.6 1292.6,185.7 1292.8,317 1293.1,447.3 1293.3,542.6 1293.5,577.5 1293.7,542.6 1294,447.2 1294.2,317 1294.4,185.7 1294.7,89.6 1294.9,54.4 1295.1,89.6 1295.3,185.7 1295.6,317 1295.8,447.3 1296,542.6 1296.3,577.5 1296.5,542.6 1296.7,447.2 1296.9,317 1297.2,185.7 1297.4,89.6 1297.6,54.4 1297.9,89.6 1298.1,185.7 1298.3,317 1298.5,447.3 1298.8,542.6 1299,577.5 1299.2,542.6 1299.5,447.2 1299.7,317 1299.9,185.7 1300.1,89.6 1300.4,54.4 1300.6,89.6 1300.8,185.7 1301.1,317 1301.3,447.3 1301.5,542.6 1301.7,577.5 1302,542.6 1302.2,447.2 1302.4,317 1302.7,185.7 1302.9,89.6 1303.1,54.4 1303.3,89.6 1303.6,185.7 1303.8,317 1304,447.3 1304.3,542.6 1304.5,577.5 1304.7,542.6 1304.9,447.2 1305.2,317 1305.4,185.7 1305.6,89.6 1305.9,54.4 1306.1,89.6 1306.3,185.7 1306.5,317 1306.8,447.3 1307,542.6 1307.2,577.5 1307.5,542.6 1307.7,447.2 1307.9,317 1308.1,185.7 1308.4,89.6 1308.6,54.4 1308.8,89.6 1309.1,185.7 1309.3,317 1309.5,447.3 1309.7,542.6 1310,577.5 1310.2,542.6 1310.4,447.2 1310.7,317 1310.9,185.7 1311.1,89.6 1311.3,54.4 1311.6,89.6 1311.8,185.7 1312,317 1312.3,447.3 1312.5,542.6 1312.7,577.5 1312.9,542.6 1313.2,447.2 1313.4,317 1313.6,185.7 1313.9,89.6 1314.1,54.4 1314.3,89.6 1314.5,185.7 1314.8,317 1315,447.3 1315.2,542.6 1315.5,577.5 1315.7,542.6 1315.9,447.2 1316.1,317 1316.4,185.7 1316.6,89.6 1316.8,54.4 1317.1,89.6 1317.3,185.7 1317.5,317 1317.7,447.3 1318,542.6 1318.2,577.5 1318.4,542.6 1318.7,447.2 1318.9,317 1319.1,185.7 1319.3,89.6 1319.6,54.4 1319.8,89.6 1320,185.7 1320.3,317 1320.5,447.3 1320.7,542.6 1320.9,577.5 1321.2,542.6 1321.4,447.2 1321.6,317 1321.9,185.7 1322.1,89.6 1322.3,54.4 1322.5,89.6 1322.8,185.7 1323,317 1323.2,447.3 1323.5,542.6 1323.7,577.5 1323.9,542.6 1324.1,447.2 1324.4,317 1324.6,185.7 1324.8,89.6 1325,54.4 1325.3,89.6 1325.5,185.7 1325.7,317 1326,447.3 1326.2,542.6 1326.4,577.5 1326.6,542.6 1326.9,447.2 1327.1,317 1327.3,185.7 1327.6,89.6 1327.8,54.4 1328,89.6 1328.2,185.7 1328.5,317 1328.7,447.3 1328.9,542.6 1329.2,577.5 1329.4,542.6 1329.6,447.2 1329.8,317 1330.1,185.7 1330.3,89.6 1330.5,54.4 1330.8,89.6 1331,185.7 1331.2,317 1331.4,447.3 1331.7,542.6 1331.9,577.5 1332.1,542.6 1332.4,447.2 1332.6,317 1332.8,185.7 1333,89.6 1333.3,54.4 1333.5,89.6 1333.7,185.7 1334,317 1334.2,447.3 1334.4,542.6 1334.6,577.5 1334.9,542.6 1335.1,447.2 1335.3,317 1335.6,185.7 1335.8,89.6 1336,54.4 1336.2,89.6 1336.5,185.7 1336.7,317 1336.9,447.3 1337.2,542.6 1337.4,577.5 1337.6,542.6 1337.8,447.2 1338.1,317 1338.3,185.7 1338.5,89.6 1338.8,54.4 1339,89.6 1339.2,185.7 1339.4,317 1339.7,447.3 1339.9,542.6 1340.1,577.5 1340.4,542.6 1340.6,447.2 1340.8,317 1341,185.7 1341.3,89.6 1341.5,54.4 1341.7,89.6 1342,185.7 1342.2,317 1342.4,447.3 1342.6,542.6 1342.9,577.5 1343.1,542.6 1343.3,447.2 1343.6,317 1343.8,185.7 1344,89.6 1344.2,54.4 1344.5,89.6 1344.7,185.7 1344.9,317 1345.2,447.3 1345.4,542.6 1345.6,577.5 1345.8,542.6 1346.1,447.2 1346.3,317 1346.5,185.7 1346.8,89.6 1347,54.4 1347.2,89.6 1347.4,185.7 1347.7,317 1347.9,447.3 1348.1,542.6 1348.4,577.5 1348.6,542.6 1348.8,447.2 1349,317 1349.3,185.7 1349.5,89.6 1349.7,54.4 1350,89.6 1350.2,185.7 1350.4,317 1350.6,447.3 1350.9,542.6 1351.1,577.5 1351.3,542.6 1351.6,447.2 1351.8,317 1352,185.7 1352.2,89.6 1352.5,54.4 1352.7,89.6 1352.9,185.7 1353.2,317 1353.4,447.3 1353.6,542.6 1353.8,577.5 1354.1,542.6 1354.3,447.2 1354.5,317 1354.8,185.7 1355,89.6 1355.2,54.4 1355.4,89.6 1355.7,185.7 1355.9,317 1356.1,447.3 1356.3,542.6 1356.6,577.5 1356.8,542.6 1357,447.2 1357.3,317 1357.5,185.7 1357.7,89.6 1357.9,54.4 1358.2,89.6 1358.4,185.7 1358.6,317 1358.9,447.3 1359.1,542.6 1359.3,577.5 1359.5,542.6 1359.8,447.2 1360,317 1360.2,185.7 1360.5,89.6 1360.7,54.4 1360.9,89.6 1361.1,185.7 1361.4,317 1361.6,447.3 1361.8,542.6 1362.1,577.5 1362.3,542.6 1362.5,447.2 1362.7,317 1363,185.7 1363.2,89.6 1363.4,54.4 1363.7,89.6 1363.9,185.7 1364.1,317 1364.3,447.3 1364.6,542.6 1364.8,577.5 1365,542.6 1365.3,447.2 1365.5,317 1365.7,185.7 1365.9,89.6 1366.2,54.4 1366.4,89.6 1366.6,185.7 1366.9,317 1367.1,447.3 1367.3,542.6 1367.5,577.5 1367.8,542.6 1368,447.2 1368.2,317 1368.5,185.7 1368.7,89.6 1368.9,54.4 1369.1,89.6 1369.4,185.7 1369.6,317 1369.8,447.3 1370.1,542.6 1370.3,577.5 1370.5,542.6 1370.7,447.3 1371,317 1371.2,185.7 1371.4,89.6 1371.7,54.4 1371.9,89.6 1372.1,185.7 1372.3,317 1372.6,447.2 1372.8,542.6 1373,577.5 1373.3,542.6 1373.5,447.3 1373.7,317 1373.9,185.7 1374.2,89.6 1374.4,54.4 1374.6,89.6 1374.9,185.7 1375.1,317 1375.3,447.2 1375.5,542.6 1375.8,577.5 1376,542.6 1376.2,447.3 1376.4,317 1376.7,185.7 1376.9,89.6 1377.1,54.4 1377.4,89.6 1377.6,185.7 1377.8,317 1378,447.2 1378.3,542.6 1378.5,577.5 1378.7,542.6 1379,447.3 1379.2,317 1379.4,185.7 1379.6,89.6 1379.9,54.4 1380.1,89.6 1380.3,186 1380.6,317.5 1380.8,447.9 1381,543.1 1381.2,577.5 1381.5,541.9 1381.7,445.8 1381.9,315.1 1382.2,183.9 1382.4,88.4 1382.6,54.4 1382.8,91 1383.1,188.3 1383.3,320.2 1383.5,450.2 1383.8,544.4 1384,577.5 1384.2,540.5 1384.4,443.5 1384.7,312.5 1384.9,181.6 1385.1,87.1 1385.4,54.5 1385.6,92.3 1385.8,190.6 1386,322.8 1386.3,452.4 1386.5,545.7 1386.7,577.4 1387,539.2 1387.2,441.2 1387.4,309.8 1387.6,179.3 1387.9,85.9 1388.1,54.5 1388.3,93.7 1388.6,192.9 1388.8,325.4 1389,454.7 1389.2,546.9 1389.5,577.3 1389.7,537.8 1389.9,438.9 1390.2,307.2 1390.4,177.1 1390.6,84.6 1390.8,54.6 1391.1,95.1 1391.3,195.3 1391.5,328.1 1391.7,456.9 1392,548.1 1392.2,577.2 1392.4,536.4 1392.7,436.6 1392.9,304.5 1393.1,174.8 1393.3,83.4 1393.6,54.7 1393.8,96.6 1394,197.6 1394.3,330.7 1394.5,459.1 1394.7,549.3 1394.9,577.1 1395.2,535 1395.4,434.2 1395.6,301.9 1395.9,172.6 1396.1,82.5 1396.3,56.3 1396.5,100 1396.8,201.5 1397,333 1397.2,457.8 1397.5,543.7 1397.7,568.2 1397.9,525.2 1398.2,426.9 1398.4,299.9 1398.7,176.9 1398.9,92.4 1399.1,68.8 1399.4,111.9 1399.6,209.4 1399.9,334.6 1400.1,451.6 1400.4,531 1400.6,552.1 1400.9,510.1 1401.1,417.1 1401.4,298.4 1401.6,183.6 1401.9,106 1402.1,85.8 1402.4,127.7 1402.6,219.5 1402.9,335.5 1403.1,441.7 1403.4,512.9 1403.7,530.6 1403.9,491.1 1404.2,405.7 1404.4,297.4 1404.7,192.5 1405,122.4 1405.2,104.9 1405.5,144.3 1405.8,229.4 1406,336.3 1406.3,433.2 1406.6,498 1406.8,513.6 1407.1,476.5 1407.4,397.1 1407.7,296.3 1407.9,198.7 1408.2,133.9 1408.5,118.7 1408.8,156.8 1409,237.3 1409.3,337.3 1409.6,427.4 1409.9,486.9 1410.1,500.3 1410.4,464.5 1410.7,389.7 1411,295.4 1411.3,204.8 1411.6,145.2 1411.8,132.3 1412.1,168.9 1412.4,244.7 1412.7,338 1413,421.5 1413.3,475.9 1413.6,487.2 1413.8,452.8 1414.1,382.6 1414.4,294.7 1414.7,210.8 1415,156.4 1415.3,145.4 1415.6,180.5 1415.9,251.7 1416.2,338.6 1416.5,415.7 1416.8,465.4 1417.1,474.9 1417.4,442 1417.7,376.1 1418,294 1418.3,216.1 1418.6,166.1 1418.9,157 1419.2,190.9 1419.5,258.1 1419.8,339 1420.1,410.2 1420.4,455.4 1420.7,463 1421,431.5 1421.3,369.8 1421.6,293.6 1421.9,221.7 1422.2,176.2 1422.5,169 1422.9,201.4 1423.2,264.3 1423.5,339.1 1423.8,403.7 1424.1,444.2 1424.4,450.1 1424.8,420.3 1425.1,363.4 1425.4,293.5 1425.7,227.7 1426,186.7 1426.4,181.1 1426.7,211.9 1427,270.4 1427.3,339 1427.7,397.8 1428,434.2 1428.3,438.7 1428.7,410.6 1429,357.9 1429.3,293.6 1429.7,233.9 1430,197.3 1430.3,193.1 1430.7,222.1 1431,276.1 1431.4,338.9 1431.7,392.5 1432,425.3 1432.4,428.6 1432.7,402.1 1433.1,353.1 1433.4,293.9 1433.8,239.6 1434.1,206.8 1434.5,204 1434.8,231.4 1435.2,281.3 1435.5,338.8 1435.9,387.8 1436.3,417.2 1436.6,419.5 1437,394.2 1437.4,348.7 1437.7,294.4 1438.1,245.7 1438.5,217 1438.9,215.5 1439.2,241.1 1439.6,286.5 1440,338.5 1440.4,383.1 1440.8,409.3 1441.2,410.4 1441.6,386.6 1442,344.5 1442.4,295.3 1442.8,252.3 1443.2,227.5 1443.4,225.5 1443.7,229.9 1443.9,242.5 1444.2,262.3 1444.4,287.2 1444.7,314.8 1445,342.3 1445.2,367.2 1445.5,387 1445.7,399.6 1446,404 1446.2,399.8 1446.5,387.7 1446.7,368.8 1446.9,345 1447.2,318.7 1447.4,292.3 1447.6,268.5 1447.8,249.6 1448.1,237.5 1448.3,233.3 1448.6,237.3 1448.8,248.7 1449.1,266.6 1449.4,289.2 1449.7,314.1 1449.9,339.1 1450.2,361.7 1450.5,379.6 1450.7,391 1451,395 1451.3,391.3 1451.6,380.4 1451.8,363.5 1452.1,342.2 1452.4,318.7 1452.7,295.1 1453,273.8 1453.2,256.9 1453.5,246 1453.8,242.3 1454.1,245.7 1454.4,255.7 1454.6,271.3 1454.9,290.9 1455.2,312.6 1455.5,334.4 1455.8,354 1456,369.6 1456.3,379.6 1456.6,383 1456.9,379.9 1457.2,370.8 1457.5,356.6 1457.8,338.8 1458,319 1458.3,299.2 1458.6,281.4 1458.9,267.2 1459.2,258.1 1459.5,255 1459.8,257.9 1460.1,266.5 1460.3,279.8 1460.6,296.6 1460.9,315.2 1461.2,333.9 1461.5,350.7 1461.7,364 1462,372.6 1462.3,375.5 1462.6,372.7 1462.9,364.6 1463.2,351.9 1463.5,335.9 1463.8,318.2 1464.2,300.6 1464.5,284.6 1464.8,271.9 1465.1,263.8 1465.4,261 1465.8,263.6 1466.1,271.2 1466.5,283 1466.8,297.9 1467.2,314.4 1467.5,331 1467.9,345.9 1468.2,357.7 1468.6,365.3 1468.9,367.9 1469.2,365.5 1469.5,358.5 1469.8,347.7 1470.1,334 1470.4,318.8 1470.7,303.6 1471,289.9 1471.3,279.1 1471.6,272.1 1471.9,269.7 1472.2,271.9 1472.6,278.5 1473,288.6 1473.3,301.4 1473.7,315.5 1474,329.7 1474.4,342.5 1474.7,352.6 1475.1,359.2 1475.4,361.4 1475.8,359.3 1476.1,353.3 1476.5,343.8 1476.9,332 1477.2,318.8 1477.6,305.6 1478,293.8 1478.4,284.3 1478.7,278.3 1479.1,276.2 1479.4,278.1 1479.8,283.7 1480.1,292.4 1480.4,303.4 1480.8,315.5 1481.1,327.6 1481.4,338.6 1481.7,347.3 1482.1,352.9 1482.4,354.8 1482.8,353.1 1483.3,348 1483.7,340.2 1484.2,330.3 1484.6,319.3 1485,308.3 1485.5,298.4 1485.9,290.6 1486.4,285.5 1486.8,283.8 1487.2,285.4 1487.6,290 1488,297.1 1488.4,306.1 1488.8,316.1 1489.1,326 1489.5,335 1489.9,342.1 1490.3,346.7 1490.7,348.3 1491.1,346.8 1491.6,342.6 1492,335.9 1492.5,327.5 1492.9,318.2 1493.3,309 1493.8,300.6 1494.2,293.9 1494.7,289.7 1495.1,288.2 1495.5,289.5 1496,293.3 1496.4,299.2 1496.8,306.7 1497.2,314.9 1497.7,323.2 1498.1,330.7 1498.5,336.6 1499,340.4 1499.4,341.7 1499.9,340.6 1500.5,337.2 1501,332 1501.5,325.5 1502.1,318.2 1502.6,311 1503.1,304.5 1503.6,299.3 1504.2,295.9 1504.7,294.8 1505.3,295.8 1505.8,298.5 1506.4,302.9 1506.9,308.3 1507.5,314.4 1508.1,320.5 1508.6,325.9 1509.2,330.3 1509.7,333 1510.3,334 1510.8,333.2 1511.3,331 1511.8,327.5 1512.3,323.1 1512.8,318.2 1513.2,313.3 1513.7,308.9 1514.2,305.4 1514.7,303.2 1515.2,302.4 1515.9,303 1516.5,304.7 1517.2,307.3 1517.8,310.7 1518.5,314.4 1519.1,318.1 1519.8,321.5 1520.4,324.1 1521,325.8 1521.7,326.4 1522.4,325.9 1523.1,324.6 1523.8,322.4 1524.5,319.8 1525.2,316.8 1525.9,313.8 1526.6,311.2 1527.3,309 1528,307.7 1528.7,307.2 1529.2,307.5 1529.8,308.4 1530.3,309.8 1530.8,311.5 1531.3,313.4 1531.9,315.3 1532.4,317 1532.9,318.4 1533.5,319.3 1534,319.6"/>
<polyline class="sig" stroke="#0000ff" points="942.5,523.3 942.8,555.3 943,523.5 943.2,436.3 943.5,317 943.7,194.5 944,104.8 944.2,71.9 944.4,104.7 944.7,194.4 944.9,317 945.2,436.7 945.4,524.4 945.6,556.6 945.9,524.6 946.1,436.9 946.4,317 946.6,194 946.8,103.9 947.1,70.8 947.3,103.7 947.6,193.8 947.8,317 948,437.3 948.3,525.5 948.5,557.9 948.8,525.7 949,437.6 949.2,317 949.5,193.4 949.7,102.9 949.9,69.7 950.2,102.8 950.4,193.3 950.7,317 950.9,438 951.1,526.6 951.4,559.2 951.6,526.8 951.9,438.2 952.1,317 952.3,192.9 952.6,102 952.8,68.6 953,101.8 953.3,192.7 953.5,317 953.8,438.6 954,527.8 954.2,560.5 954.5,527.9 954.7,438.8 954.9,317 955.2,192.4 955.4,101 955.7,67.5 955.9,100.9 956.1,192.2 956.4,317 956.6,439.1 956.8,528.5 957.1,561.3 957.3,528.7 957.6,439.2 957.8,317 958,191.8 958.3,100.1 958.5,66.5 958.7,100 959,191.7 959.2,317 959.5,439.5 959.7,529.3 959.9,562.2 960.2,529.4 960.4,439.7 960.6,317 960.9,191.5 961.1,99.5 961.4,65.8 961.6,99.4 961.8,191.3 962.1,317 962.3,440 962.5,530 962.8,563.1 963,530.2 963.2,440.1 963.5,317 963.7,191.1 964,98.9 964.2,65.1 964.4,98.8 964.7,191 964.9,317 965.1,440.4 965.4,530.8 965.6,563.9 965.8,530.9 966.1,440.5 966.3,317 966.5,190.7 966.8,98.3 967,64.4 967.3,98.2 967.5,190.6 967.7,317 968,440.8 968.2,531.5 968.4,564.8 968.7,531.6 968.9,441 969.1,317 969.4,190.4 969.6,97.6 969.8,63.6 970.1,97.5 970.3,190.3 970.6,317 970.8,441.2 971,532.3 971.3,565.6 971.5,532.4 971.7,441.4 972,317 972.2,190 972.4,97.1 972.7,63 972.9,97 973.1,190 973.4,317 973.6,441.7 973.8,533 974.1,566.4 974.3,533 974.6,441.7 974.8,317 975,189.9 975.3,96.8 975.5,62.7 975.7,96.8 976,189.8 976.2,317 976.4,441.9 976.7,533.4 976.9,566.9 977.1,533.4 977.4,442 977.6,317 977.8,189.7 978.1,96.6 978.3,62.4 978.5,96.5 978.8,189.7 979,317 979.2,442.2 979.5,533.8 979.7,567.4 979.9,533.9 980.2,442.2 980.4,317 980.6,189.6 980.9,96.3 981.1,62.1 981.3,96.3 981.6,189.5 981.8,317 982,442.4 982.3,534.2 982.5,567.9 982.7,534.3 983,442.5 983.2,317 983.4,189.4 983.7,96 983.9,61.8 984.1,96 984.4,189.4 984.6,317 984.8,442.6 985.1,534.6 985.3,568.4 985.5,534.7 985.8,442.7 986,317 986.2,189.3 986.5,95.8 986.7,61.5 986.9,95.7 987.2,189.2 987.4,317 987.6,442.9 987.9,535.1 988.1,568.8 988.3,535.1 988.6,443 988.8,317 989,189.2 989.3,95.5 989.5,61.3 989.7,95.5 990,189.1 990.2,317 990.4,443.1 990.7,535.5 990.9,569.3 991.1,535.6 991.4,443.2 991.6,317 991.8,189 992.1,95.2 992.3,60.8 992.5,95.1 992.8,188.9 993,317 993.2,443.4 993.5,535.9 993.7,569.8 993.9,536 994.2,443.5 994.4,317 994.6,188.7 994.9,94.8 995.1,60.4 995.3,94.8 995.5,188.7 995.8,317 996,443.6 996.2,536.3 996.5,570.3 996.7,536.4 996.9,443.7 997.2,317 997.4,188.5 997.6,94.4 997.9,60 998.1,94.4 998.3,188.4 998.6,317 998.8,443.9 999,536.8 999.3,570.8 999.5,536.8 999.7,443.9 1000,317 1000.2,188.3 1000.4,94.1 1000.7,59.5 1000.9,94 1001.1,188.2 1001.3,317 1001.6,444 1001.8,537 1002,571.1 1002.3,537.1 1002.5,444.1 1002.7,317 1003,188.1 1003.2,93.7 1003.4,59.1 1003.7,93.6 1003.9,188 1004.1,317 1004.4,444.2 1004.6,537.3 1004.8,571.3 1005.1,537.3 1005.3,444.2 1005.5,317 1005.8,187.9 1006,93.3 1006.2,58.7 1006.4,93.2 1006.7,187.8 1006.9,317 1007.1,444.3 1007.4,537.5 1007.6,571.6 1007.8,537.5 1008.1,444.3 1008.3,317 1008.5,187.7 1008.8,92.9 1009,58.2 1009.2,92.9 1009.5,187.6 1009.7,317 1009.9,444.4 1010.2,537.7 1010.4,571.9 1010.6,537.8 1010.8,444.5 1011.1,317 1011.3,187.5 1011.5,92.7 1011.8,57.9 1012,92.6 1012.2,187.5 1012.5,317 1012.7,444.6 1012.9,538 1013.2,572.2 1013.4,538 1013.6,444.6 1013.9,317 1014.1,187.4 1014.3,92.5 1014.5,57.8 1014.8,92.5 1015,187.4 1015.2,317 1015.5,444.7 1015.7,538.2 1015.9,572.4 1016.2,538.2 1016.4,444.7 1016.6,317 1016.9,187.4 1017.1,92.4 1017.3,57.7 1017.5,92.4 1017.8,187.3 1018,317 1018.2,444.8 1018.5,538.4 1018.7,572.7 1018.9,538.5 1019.2,444.9 1019.4,317 1019.6,187.3 1019.9,92.3 1020.1,57.6 1020.3,92.3 1020.6,187.3 1020.8,317 1021,445 1021.2,538.6 1021.5,572.9 1021.7,538.7 1021.9,445 1022.2,317 1022.4,187.2 1022.6,92.2 1022.9,57.4 1023.1,92.2 1023.3,187.2 1023.5,317 1023.8,445.1 1024,538.8 1024.2,573.2 1024.5,538.9 1024.7,445.1 1024.9,317 1025.2,187.2 1025.4,92.1 1025.6,57.3 1025.9,92.1 1026.1,187.1 1026.3,317 1026.5,445.2 1026.8,539 1027,573.4 1027.2,539.1 1027.5,445.2 1027.7,317 1027.9,187.1 1028.2,92 1028.4,57.2 1028.6,92 1028.9,187.1 1029.1,317 1029.3,445.3 1029.5,539.2 1029.8,573.6 1030,539.3 1030.2,445.3 1030.5,317 1030.7,187 1030.9,91.9 1031.2,57.1 1031.4,91.9 1031.6,187 1031.8,317 1032.1,445.4 1032.3,539.4 1032.5,573.9 1032.8,539.5 1033,445.5 1033.2,317 1033.5,187 1033.7,91.8 1033.9,56.9 1034.1,91.8 1034.4,187 1034.6,317 1034.8,445.5"/>
<polyline class="sig" stroke="#ff0000" style="stroke-width:0.8" points="1254.3,96 1254.4,72 1254.5,58 1254.6,54.6 1254.7,61.9 1254.8,79.7 1254.8,107.3 1254.9,143.4 1255,186.6 1255.1,235.2 1255.2,287.1 1255.3,340.1 1255.4,391.8 1255.5,440.6 1255.6,484.2 1255.7,521 1255.8,549.4 1255.9,568.4 1255.9,577 1256,575 1256.1,562.4 1256.2,539.7 1256.3,507.9 1256.4,468.3 1256.5,422.6 1256.6,372.4 1256.7,320 1256.8,267.1 1256.9,216.2 1257,169.5 1257,128.8 1257.1,95.7 1257.2,71.8 1257.3,57.9 1257.4,54.6 1257.5,62.1 1257.6,80 1257.7,107.6 1257.8,143.8 1257.9,187.1 1258,235.7 1258.1,287.6 1258.1,340.6 1258.2,392.3 1258.3,441 1258.4,484.6 1258.5,521.3 1258.6,549.7 1258.7,568.5 1258.8,577 1258.9,574.9 1259,562.2 1259.1,539.4 1259.2,507.6 1259.2,467.9 1259.3,422.1 1259.4,371.9 1259.5,319.5 1259.6,266.6 1259.7,215.7 1259.8,169 1259.9,128.4 1260,95.5 1260.1,71.6 1260.2,57.8 1260.2,54.6 1260.3,62.2 1260.4,80.2 1260.5,107.9 1260.6,144.2 1260.7,187.5 1260.8,236.2 1260.9,288.2 1261,341.1 1261.1,392.9 1261.2,441.5 1261.3,485 1261.3,521.7 1261.4,549.9 1261.5,568.6 1261.6,577 1261.7,574.8 1261.8,562 1261.9,539.2 1262,507.2 1262.1,467.5 1262.2,421.6 1262.3,371.4 1262.4,319 1262.4,266.1 1262.5,215.3 1262.6,168.6 1262.7,128 1262.8,95.2 1262.9,71.4 1263,57.7 1263.1,54.6 1263.2,62.3 1263.3,80.4 1263.4,108.2 1263.5,144.6 1263.5,188 1263.6,236.7 1263.7,288.7 1263.8,341.7 1263.9,393.4 1264,442 1264.1,485.4 1264.2,522 1264.3,550.2 1264.4,568.8 1264.5,577.1 1264.5,574.7 1264.6,561.8 1264.7,538.9 1264.8,506.9 1264.9,467 1265,421.1 1265.1,370.9 1265.2,318.5 1265.3,265.6 1265.4,214.8 1265.5,168.1 1265.6,127.6 1265.6,94.9 1265.7,71.2 1265.8,57.6 1265.9,54.7 1266,62.5 1266.1,80.7 1266.2,108.6 1266.3,145 1266.4,188.5 1266.5,237.2 1266.6,289.2 1266.7,342.2 1266.7,393.9 1266.8,442.4 1266.9,485.8 1267,522.3 1267.1,550.4 1267.2,568.9 1267.3,577.1 1267.4,574.7 1267.5,561.6 1267.6,538.6 1267.7,506.5 1267.8,466.6 1267.8,420.6 1267.9,370.4 1268,317.9 1268.1,265 1268.2,214.3 1268.3,167.7 1268.4,127.3 1268.5,94.6 1268.6,71 1268.7,57.6 1268.8,54.7 1268.9,62.6 1268.9,80.9 1269,108.9 1269.1,145.4 1269.2,188.9 1269.3,237.7 1269.4,289.8 1269.5,342.7 1269.6,394.4 1269.7,442.9 1269.8,486.2 1269.9,522.6 1269.9,550.6 1270,569 1270.1,577.1 1270.2,574.6 1270.3,561.5 1270.4,538.3 1270.5,506.1 1270.6,466.2 1270.7,420.1 1270.8,369.8 1270.9,317.4 1271,264.5 1271,213.8 1271.1,167.3 1271.2,126.9 1271.3,94.3 1271.4,70.8 1271.5,57.5 1271.6,54.7 1271.7,62.7 1271.8,81.1 1271.9,109.2 1272,145.8 1272.1,189.4 1272.1,238.2 1272.2,290.3 1272.3,343.2 1272.4,394.9 1272.5,443.3 1272.6,486.6 1272.7,523 1272.8,550.9 1272.9,569.2 1273,577.2 1273.1,574.5 1273.2,561.3 1273.2,538 1273.3,505.8 1273.4,465.7 1273.5,419.6 1273.6,369.3 1273.7,316.9 1273.8,264 1273.9,213.3 1274,166.8 1274.1,126.5 1274.2,94 1274.2,70.7 1274.3,57.4 1274.4,54.8 1274.5,62.9 1274.6,81.4 1274.7,109.5 1274.8,146.2 1274.9,189.9 1275,238.8 1275.1,290.8 1275.2,343.8 1275.3,395.4 1275.3,443.8 1275.4,487 1275.5,523.3 1275.6,551.1 1275.7,569.3 1275.8,577.2 1275.9,574.4 1276,561.1 1276.1,537.8 1276.2,505.4 1276.3,465.3 1276.4,419.1 1276.4,368.8 1276.5,316.3 1276.6,263.5 1276.7,212.8 1276.8,166.4 1276.9,126.2 1277,93.7 1277.1,70.5 1277.2,57.3 1277.3,54.8 1277.4,63 1277.5,81.6 1277.5,109.9 1277.6,146.6 1277.7,190.4 1277.8,239.3 1277.9,291.4 1278,344.3 1278.1,395.9 1278.2,444.3 1278.3,487.4 1278.4,523.6 1278.5,551.3 1278.6,569.4 1278.6,577.2 1278.7,574.3 1278.8,560.9 1278.9,537.5 1279,505 1279.1,464.9 1279.2,418.7 1279.3,368.3 1279.4,315.8 1279.5,262.9 1279.6,212.3 1279.6,165.9 1279.7,125.8 1279.8,93.5 1279.9,70.3 1280,57.2 1280.1,54.8 1280.2,63.1 1280.3,81.9 1280.4,110.2 1280.5,147 1280.6,190.8 1280.7,239.8 1280.7,291.9 1280.8,344.8 1280.9,396.4 1281,444.7 1281.1,487.8 1281.2,523.9 1281.3,551.6 1281.4,569.6 1281.5,577.2 1281.6,574.2 1281.7,560.7 1281.8,537.2 1281.8,504.7 1281.9,464.4 1282,418.2 1282.1,367.8 1282.2,315.2 1282.3,262.4 1282.4,211.8 1282.5,165.5 1282.6,125.4 1282.7,93.2 1282.8,70.1 1282.9,57.2 1282.9,54.8 1283,63.3 1283.1,82.1 1283.2,110.5 1283.3,147.4 1283.4,191.3 1283.5,240.3 1283.6,292.4 1283.7,345.4 1283.8,396.9 1283.9,445.2 1283.9,488.2 1284,524.3 1284.1,551.8 1284.2,569.7 1284.3,577.3 1284.4,574.2 1284.5,560.5 1284.6,536.9 1284.7,504.3 1284.8,464 1284.9,417.7 1285,367.2 1285,314.7 1285.1,261.9 1285.2,211.3 1285.3,165.1 1285.4,125.1 1285.5,92.9 1285.6,69.9 1285.7,57.1 1285.8,54.9 1285.9,63.4 1286,82.3 1286.1,110.9 1286.1,147.8 1286.2,191.8 1286.3,240.8 1286.4,293 1286.5,345.9 1286.6,397.4 1286.7,445.7 1286.8,488.6 1286.9,524.6 1287,552 1287.1,569.8 1287.2,577.3 1287.2,574.1 1287.3,560.3 1287.4,536.6 1287.5,503.9 1287.6,463.6 1287.7,417.2 1287.8,366.7 1287.9,314.2 1288,261.4 1288.1,210.8 1288.2,164.6 1288.3,124.7 1288.3,92.6 1288.4,69.7 1288.5,57 1288.6,54.9 1288.7,63.5 1288.8,82.6 1288.9,111.2 1289,148.3 1289.1,192.2 1289.2,241.3 1289.3,293.5 1289.3,346.4 1289.4,397.9 1289.5,446.1 1289.6,489 1289.7,524.9 1289.8,552.3 1289.9,570 1290,577.3 1290.1,574 1290.2,560.1 1290.3,536.3 1290.4,503.5 1290.4,463.1 1290.5,416.7 1290.6,366.2 1290.7,313.6 1290.8,260.8 1290.9,210.3 1291,164.2 1291.1,124.3 1291.2,92.3 1291.3,69.6 1291.4,56.9 1291.5,54.9 1291.5,63.7 1291.6,82.8 1291.7,111.5 1291.8,148.7 1291.9,192.7 1292,241.8 1292.1,294 1292.2,346.9 1292.3,398.4 1292.4,446.6 1292.5,489.4 1292.6,525.2 1292.6,552.5 1292.7,570.1 1292.8,577.3 1292.9,573.9 1293,560 1293.1,536.1 1293.2,503.2 1293.3,462.7 1293.4,416.2 1293.5,365.7 1293.6,313.1 1293.6,260.3 1293.7,209.8 1293.8,163.8 1293.9,124 1294,92.1 1294.1,69.4 1294.2,56.9 1294.3,55 1294.4,63.8 1294.5,83.1 1294.6,111.9 1294.7,149.1 1294.7,193.2 1294.8,242.3 1294.9,294.6 1295,347.5 1295.1,398.9 1295.2,447.1 1295.3,489.8 1295.4,525.5 1295.5,552.7 1295.6,570.2 1295.7,577.3 1295.8,573.8 1295.8,559.8 1295.9,535.8 1296,502.8 1296.1,462.2 1296.2,415.7 1296.3,365.1 1296.4,312.6 1296.5,259.8 1296.6,209.4 1296.7,163.3 1296.8,123.6 1296.9,91.8 1296.9,69.2 1297,56.8 1297.1,55 1297.2,64 1297.3,83.3 1297.4,112.2 1297.5,149.5 1297.6,193.7 1297.7,242.9 1297.8,295.1 1297.9,348 1298,399.4 1298,447.5 1298.1,490.2 1298.2,525.9 1298.3,552.9 1298.4,570.3 1298.5,577.4 1298.6,573.7 1298.7,559.6 1298.8,535.5 1298.9,502.4 1299,461.8 1299,415.2 1299.1,364.6 1299.2,312 1299.3,259.3 1299.4,208.9 1299.5,162.9 1299.6,123.2 1299.7,91.5 1299.8,69 1299.9,56.7 1300,55 1300.1,64.1 1300.1,83.5 1300.2,112.5 1300.3,149.9 1300.4,194.1 1300.5,243.4 1300.6,295.6 1300.7,348.5 1300.8,399.9 1300.9,448 1301,490.6 1301.1,526.2 1301.2,553.2 1301.2,570.5 1301.3,577.4 1301.4,573.6 1301.5,559.4 1301.6,535.2 1301.7,502.1 1301.8,461.3 1301.9,414.7 1302,364.1 1302.1,311.5 1302.2,258.7 1302.3,208.4 1302.3,162.5 1302.4,122.9 1302.5,91.2 1302.6,68.9 1302.7,56.6 1302.8,55.1 1302.9,64.3 1303,83.8 1303.1,112.9 1303.2,150.3 1303.3,194.6 1303.3,243.9 1303.4,296.2 1303.5,349.1 1303.6,400.5 1303.7,448.4 1303.8,491 1303.9,526.5 1304,553.4 1304.1,570.6 1304.2,577.4 1304.3,573.5 1304.4,559.2 1304.4,534.9 1304.5,501.7 1304.6,460.9 1304.7,414.2 1304.8,363.6 1304.9,311 1305,258.2 1305.1,207.9 1305.2,162 1305.3,122.5 1305.4,91 1305.5,68.7 1305.5,56.6 1305.6,55.1 1305.7,64.4 1305.8,84 1305.9,113.2 1306,150.7 1306.1,195.1 1306.2,244.4 1306.3,296.7 1306.4,349.6 1306.5,401 1306.6,448.9 1306.6,491.4 1306.7,526.8 1306.8,553.6 1306.9,570.7 1307,577.4 1307.1,573.4 1307.2,559 1307.3,534.6 1307.4,501.3 1307.5,460.5 1307.6,413.7 1307.7,363.1 1307.7,310.4 1307.8,257.7 1307.9,207.4 1308,161.6 1308.1,122.2 1308.2,90.7 1308.3,68.5 1308.4,56.5 1308.5,55.2 1308.6,64.6 1308.7,84.3 1308.7,113.6 1308.8,151.2 1308.9,195.5 1309,244.9 1309.1,297.2 1309.2,350.1 1309.3,401.5 1309.4,449.3 1309.5,491.8 1309.6,527.1 1309.7,553.8 1309.8,570.8 1309.8,577.4 1309.9,573.4 1310,558.8 1310.1,534.3 1310.2,500.9 1310.3,460 1310.4,413.2 1310.5,362.5 1310.6,309.9 1310.7,257.2 1310.8,206.9 1310.9,161.2 1310.9,121.8 1311,90.4 1311.1,68.3 1311.2,56.4 1311.3,55.2 1311.4,64.7 1311.5,84.5 1311.6,113.9 1311.7,151.6 1311.8,196 1311.9,245.4 1312,297.8 1312,350.6 1312.1,402 1312.2,449.8 1312.3,492.2 1312.4,527.4 1312.5,554 1312.6,570.9 1312.7,577.4 1312.8,573.3 1312.9,558.6 1313,534 1313,500.6 1313.1,459.6 1313.2,412.7 1313.3,362 1313.4,309.4 1313.5,256.7 1313.6,206.4 1313.7,160.7 1313.8,121.4 1313.9,90.2 1314,68.2 1314.1,56.4 1314.1,55.2 1314.2,64.9 1314.3,84.8 1314.4,114.2 1314.5,152 1314.6,196.5 1314.7,245.9 1314.8,298.3 1314.9,351.2 1315,402.5 1315.1,450.3 1315.2,492.6 1315.2,527.8 1315.3,554.3 1315.4,571.1 1315.5,577.4 1315.6,573.2 1315.7,558.4 1315.8,533.7 1315.9,500.2 1316,459.1 1316.1,412.3 1316.2,361.5 1316.3,308.8 1316.3,256.1 1316.4,205.9 1316.5,160.3 1316.6,121.1 1316.7,89.9 1316.8,68 1316.9,56.3 1317,55.3 1317.1,65 1317.2,85 1317.3,114.6 1317.4,152.4 1317.4,197 1317.5,246.5 1317.6,298.8 1317.7,351.7 1317.8,403 1317.9,450.7 1318,493 1318.1,528.1 1318.2,554.5 1318.3,571.2 1318.4,577.5 1318.4,573.1 1318.5,558.2 1318.6,533.4 1318.7,499.8 1318.8,458.7 1318.9,411.8 1319,361 1319.1,308.3 1319.2,255.6 1319.3,205.5 1319.4,159.9 1319.5,120.7 1319.5,89.6 1319.6,67.8 1319.7,56.2 1319.8,55.3 1319.9,65.2 1320,85.3 1320.1,114.9 1320.2,152.8 1320.3,197.5 1320.4,247 1320.5,299.4 1320.6,352.2 1320.6,403.5 1320.7,451.2 1320.8,493.4 1320.9,528.4 1321,554.7 1321.1,571.3 1321.2,577.5 1321.3,573 1321.4,558 1321.5,533.1 1321.6,499.4 1321.7,458.2 1321.7,411.3 1321.8,360.4 1321.9,307.7 1322,255.1 1322.1,205 1322.2,159.4 1322.3,120.4 1322.4,89.3 1322.5,67.7 1322.6,56.2 1322.7,55.4 1322.7,65.3 1322.8,85.5 1322.9,115.3 1323,153.2 1323.1,197.9 1323.2,247.5 1323.3,299.9 1323.4,352.7 1323.5,404 1323.6,451.6 1323.7,493.8 1323.8,528.7 1323.8,554.9 1323.9,571.4 1324,577.5 1324.1,572.9 1324.2,557.8 1324.3,532.8 1324.4,499 1324.5,457.8 1324.6,410.8 1324.7,359.9 1324.8,307.2 1324.9,254.6 1324.9,204.5 1325,159 1325.1,120 1325.2,89.1 1325.3,67.5 1325.4,56.1 1325.5,55.4 1325.6,65.5 1325.7,85.8 1325.8,115.6 1325.9,153.7 1326,198.4 1326,248 1326.1,300.4 1326.2,353.3 1326.3,404.5 1326.4,452.1 1326.5,494.2 1326.6,529 1326.7,555.1 1326.8,571.5 1326.9,577.5 1327,572.8 1327.1,557.6 1327.1,532.5 1327.2,498.7 1327.3,457.3 1327.4,410.3 1327.5,359.4 1327.6,306.7 1327.7,254 1327.8,204 1327.9,158.6 1328,119.7 1328.1,88.8 1328.1,67.3 1328.2,56.1 1328.3,55.5 1328.4,65.6 1328.5,86 1328.6,115.9 1328.7,154.1 1328.8,198.9 1328.9,248.5 1329,301 1329.1,353.8 1329.2,405 1329.2,452.5 1329.3,494.6 1329.4,529.3 1329.5,555.4 1329.6,571.6 1329.7,577.5 1329.8,572.7 1329.9,557.4 1330,532.2 1330.1,498.3 1330.2,456.9 1330.3,409.8 1330.3,358.9 1330.4,306.1 1330.5,253.5 1330.6,203.5 1330.7,158.2 1330.8,119.3 1330.9,88.5 1331,67.2 1331.1,56 1331.2,55.5 1331.3,65.8 1331.4,86.3 1331.4,116.3 1331.5,154.5 1331.6,199.4 1331.7,249.1 1331.8,301.5 1331.9,354.3 1332,405.5 1332.1,453 1332.2,494.9 1332.3,529.6 1332.4,555.6 1332.4,571.7 1332.5,577.5 1332.6,572.6 1332.7,557.2 1332.8,531.9 1332.9,497.9 1333,456.4 1333.1,409.3 1333.2,358.3 1333.3,305.6 1333.4,253 1333.5,203 1333.5,157.7 1333.6,119 1333.7,88.3 1333.8,67 1333.9,55.9 1334,55.6 1334.1,65.9 1334.2,86.6 1334.3,116.6 1334.4,154.9 1334.5,199.8 1334.6,249.6 1334.6,302.1 1334.7,354.8 1334.8,406 1334.9,453.4 1335,495.3 1335.1,529.9 1335.2,555.8 1335.3,571.9 1335.4,577.5 1335.5,572.5 1335.6,557 1335.7,531.6 1335.7,497.5 1335.8,456 1335.9,408.8 1336,357.8 1336.1,305.1 1336.2,252.5 1336.3,202.6 1336.4,157.3 1336.5,118.6 1336.6,88 1336.7,66.8 1336.8,55.9 1336.8,55.6 1336.9,66.1 1337,86.8 1337.1,117 1337.2,155.3 1337.3,200.3 1337.4,250.1 1337.5,302.6 1337.6,355.4 1337.7,406.5 1337.8,453.9 1337.8,495.7 1337.9,530.2 1338,556 1338.1,572 1338.2,577.5 1338.3,572.4 1338.4,556.8 1338.5,531.3 1338.6,497.1 1338.7,455.5 1338.8,408.3 1338.9,357.3 1338.9,304.5 1339,252 1339.1,202.1 1339.2,156.9 1339.3,118.2 1339.4,87.8 1339.5,66.7 1339.6,55.8 1339.7,55.7 1339.8,66.2 1339.9,87.1 1340,117.3 1340,155.8 1340.1,200.8 1340.2,250.6 1340.3,303.1 1340.4,355.9 1340.5,407 1340.6,454.4 1340.7,496.1 1340.8,530.5 1340.9,556.2 1341,572.1 1341.1,577.5 1341.1,572.3 1341.2,556.5 1341.3,531 1341.4,496.7 1341.5,455.1 1341.6,407.8 1341.7,356.8 1341.8,304 1341.9,251.5 1342,201.6 1342.1,156.5 1342.1,117.9 1342.2,87.5 1342.3,66.5 1342.4,55.8 1342.5,55.7 1342.6,66.4 1342.7,87.3 1342.8,117.7 1342.9,156.2 1343,201.3 1343.1,251.1 1343.2,303.7 1343.2,356.4 1343.3,407.5 1343.4,454.8 1343.5,496.5 1343.6,530.8 1343.7,556.4 1343.8,572.2 1343.9,577.5 1344,572.1 1344.1,556.3 1344.2,530.7 1344.3,496.4 1344.3,454.6 1344.4,407.3 1344.5,356.2 1344.6,303.5 1344.7,250.9 1344.8,201.1 1344.9,156 1345,117.6 1345.1,87.2 1345.2,66.3 1345.3,55.7 1345.4,55.8 1345.4,66.6 1345.5,87.6 1345.6,118 1345.7,156.6 1345.8,201.8 1345.9,251.6 1346,304.2 1346.1,357 1346.2,408 1346.3,455.3 1346.4,496.9 1346.5,531.1 1346.5,556.6 1346.6,572.3 1346.7,577.5 1346.8,572 1346.9,556.1 1347,530.4"/>
</g>
<g class="t"><rect x="12.0" y="16.4" width="747.50" height="601.10" fill="none"/></g>
<g class="t"><rect x="786.5" y="17.0" width="747.50" height="601.40" fill="none"/></g>
<rect x="420.3" y="34.4" width="322.2" height="66.2" fill="#fff" stroke="#333" stroke-width="1"/>
<line x1="426.9" y1="47.5" x2="478.4" y2="47.5" stroke="#00ff00" stroke-width="0.62"/>
<text x="483.3" y="52.90" class="lt" textLength="90.3" lengthAdjust="spacingAndGlyphs">Actual Signal</text>
<line x1="426.9" y1="67.45" x2="478.4" y2="67.45" stroke="#0000ff" stroke-width="0.62"/>
<text x="483.3" y="72.85" class="lt" textLength="243.4" lengthAdjust="spacingAndGlyphs">50% amplitude steady state region</text>
<line x1="426.9" y1="87.45" x2="478.4" y2="87.45" stroke="#ff0000" stroke-width="0.62"/>
<text x="483.3" y="92.85" class="lt" textLength="250.0" lengthAdjust="spacingAndGlyphs">100% amplitude steady state region</text>
<rect x="1194.7" y="34.5" width="322" height="66.3" fill="#fff" stroke="#333" stroke-width="1"/>
<line x1="1201.0" y1="47.5" x2="1252.7" y2="47.5" stroke="#00ff00" stroke-width="0.62"/>
<text x="1258.0" y="52.90" class="lt" textLength="90.3" lengthAdjust="spacingAndGlyphs">Actual Signal</text>
<line x1="1201.0" y1="67.85" x2="1252.7" y2="67.85" stroke="#0000ff" stroke-width="0.62"/>
<text x="1258.0" y="73.25" class="lt" textLength="243.4" lengthAdjust="spacingAndGlyphs">50% amplitude steady state region</text>
<line x1="1201.0" y1="88.15" x2="1252.7" y2="88.15" stroke="#ff0000" stroke-width="0.62"/>
<text x="1258.0" y="93.55" class="lt" textLength="250.0" lengthAdjust="spacingAndGlyphs">100% amplitude steady state region</text>
</svg>
</body></html>
